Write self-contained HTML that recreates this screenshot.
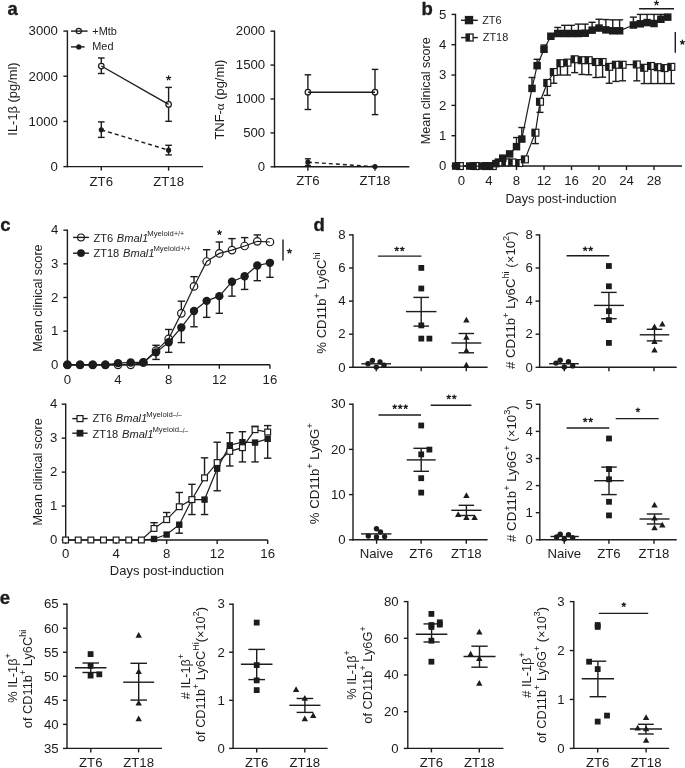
<!DOCTYPE html>
<html><head><meta charset="utf-8"><style>
html,body{margin:0;padding:0;background:#fff;width:685px;height:768px;overflow:hidden}
svg{position:absolute;left:0;top:0;display:block;will-change:transform}
text{font-family:"Liberation Sans", sans-serif;fill:#1c1c1c}
</style></head><body>
<svg width="685" height="768" viewBox="0 0 685 768">
<text x="7.6" y="14.6" font-size="18.5" font-weight="bold" stroke="#1c1c1c" stroke-width="0.35">a</text>
<text x="421.4" y="14.6" font-size="18.5" font-weight="bold" stroke="#1c1c1c" stroke-width="0.35">b</text>
<text x="0.3" y="231.3" font-size="18.5" font-weight="bold" stroke="#1c1c1c" stroke-width="0.35">c</text>
<text x="313.6" y="231.4" font-size="18.5" font-weight="bold" stroke="#1c1c1c" stroke-width="0.35">d</text>
<text x="-0.3" y="603.7" font-size="18.5" font-weight="bold" stroke="#1c1c1c" stroke-width="0.35">e</text>
<line x1="67.4" y1="30.49" x2="67.4" y2="167.2" stroke="#1c1c1c" stroke-width="1.4"/>
<line x1="63.4" y1="31.09" x2="67.4" y2="31.09" stroke="#1c1c1c" stroke-width="1.4"/>
<text x="57.9" y="35.38" font-size="13.2" text-anchor="end">3000</text>
<line x1="63.4" y1="76.26" x2="67.4" y2="76.26" stroke="#1c1c1c" stroke-width="1.4"/>
<text x="57.9" y="80.55" font-size="13.2" text-anchor="end">2000</text>
<line x1="63.4" y1="121.43" x2="67.4" y2="121.43" stroke="#1c1c1c" stroke-width="1.4"/>
<text x="57.9" y="125.72" font-size="13.2" text-anchor="end">1000</text>
<line x1="63.4" y1="166.6" x2="67.4" y2="166.6" stroke="#1c1c1c" stroke-width="1.4"/>
<text x="57.9" y="170.89" font-size="13.2" text-anchor="end">0</text>
<line x1="66.8" y1="166.6" x2="203" y2="166.6" stroke="#1c1c1c" stroke-width="1.4"/>
<line x1="101.3" y1="166.6" x2="101.3" y2="170.6" stroke="#1c1c1c" stroke-width="1.4"/>
<text x="101.3" y="185.8" font-size="13.2" text-anchor="middle">ZT6</text>
<line x1="168.6" y1="166.6" x2="168.6" y2="170.6" stroke="#1c1c1c" stroke-width="1.4"/>
<text x="168.6" y="185.8" font-size="13.2" text-anchor="middle">ZT18</text>
<text transform="translate(16.9,99) rotate(-90)" font-size="12.9" text-anchor="middle">IL-1β (pg/ml)</text>
<circle cx="78.8" cy="31.1" r="2.65" fill="#fff" stroke="#1c1c1c" stroke-width="1.2"/>
<line x1="71" y1="31.1" x2="87.6" y2="31.1" stroke="#1c1c1c" stroke-width="1.4"/>
<text x="92.3" y="34.8" font-size="10.9">+Mtb</text>
<line x1="71" y1="46.9" x2="84.7" y2="46.9" stroke="#1c1c1c" stroke-width="1.4"/>
<circle cx="78.8" cy="46.9" r="1.9" fill="#1c1c1c" stroke="#1c1c1c" stroke-width="1.4"/>
<text x="92.3" y="50.4" font-size="10.9">Med</text>
<line x1="101.3" y1="58" x2="101.3" y2="73.5" stroke="#1c1c1c" stroke-width="1.4"/>
<line x1="98" y1="58" x2="104.6" y2="58" stroke="#1c1c1c" stroke-width="1.4"/>
<line x1="98" y1="73.5" x2="104.6" y2="73.5" stroke="#1c1c1c" stroke-width="1.4"/>
<line x1="168.6" y1="87.4" x2="168.6" y2="121.3" stroke="#1c1c1c" stroke-width="1.4"/>
<line x1="165.3" y1="87.4" x2="171.9" y2="87.4" stroke="#1c1c1c" stroke-width="1.4"/>
<line x1="165.3" y1="121.3" x2="171.9" y2="121.3" stroke="#1c1c1c" stroke-width="1.4"/>
<circle cx="101.3" cy="66" r="2.75" fill="#fff" stroke="#1c1c1c" stroke-width="1.25"/>
<circle cx="168.6" cy="104.4" r="2.75" fill="#fff" stroke="#1c1c1c" stroke-width="1.25"/>
<line x1="101.3" y1="66" x2="168.6" y2="104.4" stroke="#1c1c1c" stroke-width="1.4"/>
<path d="M168.6 78L168.6 75.85M168.6 78L170.64 77.34M168.6 78L169.86 79.74M168.6 78L167.34 79.74M168.6 78L166.56 77.34" stroke="#1c1c1c" stroke-width="1.25" stroke-linecap="round" fill="none"/>
<line x1="101.3" y1="129.8" x2="168.6" y2="150.2" stroke="#1c1c1c" stroke-width="1.4" stroke-dasharray="4,3"/>
<line x1="101.3" y1="121.9" x2="101.3" y2="137.4" stroke="#1c1c1c" stroke-width="1.4"/>
<line x1="98" y1="121.9" x2="104.6" y2="121.9" stroke="#1c1c1c" stroke-width="1.4"/>
<line x1="98" y1="137.4" x2="104.6" y2="137.4" stroke="#1c1c1c" stroke-width="1.4"/>
<line x1="168.6" y1="145.3" x2="168.6" y2="154.9" stroke="#1c1c1c" stroke-width="1.4"/>
<line x1="165.3" y1="145.3" x2="171.9" y2="145.3" stroke="#1c1c1c" stroke-width="1.4"/>
<line x1="165.3" y1="154.9" x2="171.9" y2="154.9" stroke="#1c1c1c" stroke-width="1.4"/>
<circle cx="101.3" cy="129.8" r="1.9" fill="#1c1c1c" stroke="#1c1c1c" stroke-width="1.4"/>
<circle cx="168.6" cy="150.2" r="1.9" fill="#1c1c1c" stroke="#1c1c1c" stroke-width="1.4"/>
<line x1="274.5" y1="30.56" x2="274.5" y2="167.4" stroke="#1c1c1c" stroke-width="1.4"/>
<line x1="270.5" y1="31.16" x2="274.5" y2="31.16" stroke="#1c1c1c" stroke-width="1.4"/>
<text x="265.2" y="35.45" font-size="13.2" text-anchor="end">2000</text>
<line x1="270.5" y1="65.07" x2="274.5" y2="65.07" stroke="#1c1c1c" stroke-width="1.4"/>
<text x="265.2" y="69.36" font-size="13.2" text-anchor="end">1500</text>
<line x1="270.5" y1="98.98" x2="274.5" y2="98.98" stroke="#1c1c1c" stroke-width="1.4"/>
<text x="265.2" y="103.27" font-size="13.2" text-anchor="end">1000</text>
<line x1="270.5" y1="132.89" x2="274.5" y2="132.89" stroke="#1c1c1c" stroke-width="1.4"/>
<text x="265.2" y="137.18" font-size="13.2" text-anchor="end">500</text>
<line x1="270.5" y1="166.8" x2="274.5" y2="166.8" stroke="#1c1c1c" stroke-width="1.4"/>
<text x="265.2" y="171.09" font-size="13.2" text-anchor="end">0</text>
<line x1="273.9" y1="166.8" x2="409.4" y2="166.8" stroke="#1c1c1c" stroke-width="1.4"/>
<line x1="307.9" y1="166.8" x2="307.9" y2="170.8" stroke="#1c1c1c" stroke-width="1.4"/>
<text x="307.9" y="185.3" font-size="13.2" text-anchor="middle">ZT6</text>
<line x1="375" y1="166.8" x2="375" y2="170.8" stroke="#1c1c1c" stroke-width="1.4"/>
<text x="375" y="185.3" font-size="13.2" text-anchor="middle">ZT18</text>
<text transform="translate(224.2,99.6) rotate(-90)" font-size="12.9" text-anchor="middle">TNF-<tspan font-family="Liberation Serif">α</tspan> (pg/ml)</text>
<line x1="307.9" y1="74.8" x2="307.9" y2="109.5" stroke="#1c1c1c" stroke-width="1.4"/>
<line x1="304.6" y1="74.8" x2="311.2" y2="74.8" stroke="#1c1c1c" stroke-width="1.4"/>
<line x1="304.6" y1="109.5" x2="311.2" y2="109.5" stroke="#1c1c1c" stroke-width="1.4"/>
<line x1="375" y1="69.4" x2="375" y2="114.6" stroke="#1c1c1c" stroke-width="1.4"/>
<line x1="371.7" y1="69.4" x2="378.3" y2="69.4" stroke="#1c1c1c" stroke-width="1.4"/>
<line x1="371.7" y1="114.6" x2="378.3" y2="114.6" stroke="#1c1c1c" stroke-width="1.4"/>
<circle cx="307.9" cy="92.2" r="2.75" fill="#fff" stroke="#1c1c1c" stroke-width="1.25"/>
<circle cx="375" cy="92.2" r="2.75" fill="#fff" stroke="#1c1c1c" stroke-width="1.25"/>
<line x1="307.9" y1="92.2" x2="375" y2="92.2" stroke="#1c1c1c" stroke-width="1.4"/>
<line x1="307.9" y1="162.2" x2="375" y2="166.6" stroke="#1c1c1c" stroke-width="1.4" stroke-dasharray="4,3"/>
<line x1="307.9" y1="158.8" x2="307.9" y2="165.6" stroke="#1c1c1c" stroke-width="1.4"/>
<line x1="304.9" y1="158.8" x2="310.9" y2="158.8" stroke="#1c1c1c" stroke-width="1.4"/>
<line x1="304.9" y1="165.6" x2="310.9" y2="165.6" stroke="#1c1c1c" stroke-width="1.4"/>
<circle cx="307.9" cy="162.2" r="1.9" fill="#1c1c1c" stroke="#1c1c1c" stroke-width="1.4"/>
<circle cx="375" cy="166.6" r="1.9" fill="#1c1c1c" stroke="#1c1c1c" stroke-width="1.4"/>
<line x1="455.5" y1="13.8" x2="455.5" y2="166.65" stroke="#1c1c1c" stroke-width="1.4"/>
<line x1="451.5" y1="14.4" x2="455.5" y2="14.4" stroke="#1c1c1c" stroke-width="1.4"/>
<text x="446.3" y="18.69" font-size="13.2" text-anchor="end">5</text>
<line x1="451.5" y1="44.73" x2="455.5" y2="44.73" stroke="#1c1c1c" stroke-width="1.4"/>
<text x="446.3" y="49.02" font-size="13.2" text-anchor="end">4</text>
<line x1="451.5" y1="75.06" x2="455.5" y2="75.06" stroke="#1c1c1c" stroke-width="1.4"/>
<text x="446.3" y="79.35" font-size="13.2" text-anchor="end">3</text>
<line x1="451.5" y1="105.39" x2="455.5" y2="105.39" stroke="#1c1c1c" stroke-width="1.4"/>
<text x="446.3" y="109.68" font-size="13.2" text-anchor="end">2</text>
<line x1="451.5" y1="135.72" x2="455.5" y2="135.72" stroke="#1c1c1c" stroke-width="1.4"/>
<text x="446.3" y="140.01" font-size="13.2" text-anchor="end">1</text>
<line x1="451.5" y1="166.05" x2="455.5" y2="166.05" stroke="#1c1c1c" stroke-width="1.4"/>
<text x="446.3" y="170.34" font-size="13.2" text-anchor="end">0</text>
<line x1="454.9" y1="166.05" x2="682" y2="166.05" stroke="#1c1c1c" stroke-width="1.4"/>
<line x1="461.5" y1="166.05" x2="461.5" y2="170.05" stroke="#1c1c1c" stroke-width="1.4"/>
<text x="461.5" y="185.4" font-size="13.2" text-anchor="middle">0</text>
<line x1="489" y1="166.05" x2="489" y2="170.05" stroke="#1c1c1c" stroke-width="1.4"/>
<text x="489" y="185.4" font-size="13.2" text-anchor="middle">4</text>
<line x1="516.5" y1="166.05" x2="516.5" y2="170.05" stroke="#1c1c1c" stroke-width="1.4"/>
<text x="516.5" y="185.4" font-size="13.2" text-anchor="middle">8</text>
<line x1="544" y1="166.05" x2="544" y2="170.05" stroke="#1c1c1c" stroke-width="1.4"/>
<text x="544" y="185.4" font-size="13.2" text-anchor="middle">12</text>
<line x1="571.5" y1="166.05" x2="571.5" y2="170.05" stroke="#1c1c1c" stroke-width="1.4"/>
<text x="571.5" y="185.4" font-size="13.2" text-anchor="middle">16</text>
<line x1="599" y1="166.05" x2="599" y2="170.05" stroke="#1c1c1c" stroke-width="1.4"/>
<text x="599" y="185.4" font-size="13.2" text-anchor="middle">20</text>
<line x1="626.5" y1="166.05" x2="626.5" y2="170.05" stroke="#1c1c1c" stroke-width="1.4"/>
<text x="626.5" y="185.4" font-size="13.2" text-anchor="middle">24</text>
<line x1="654" y1="166.05" x2="654" y2="170.05" stroke="#1c1c1c" stroke-width="1.4"/>
<text x="654" y="185.4" font-size="13.2" text-anchor="middle">28</text>
<text transform="translate(429.9,90.8) rotate(-90)" font-size="12.6" text-anchor="middle">Mean clinical score</text>
<text x="561" y="203.2" font-size="12.65" text-anchor="middle">Days post-induction</text>
<line x1="461" y1="20.3" x2="477.8" y2="20.3" stroke="#1c1c1c" stroke-width="1.4"/>
<rect x="465.5" y="16.6" width="7" height="7" fill="#1c1c1c" stroke="#1c1c1c" stroke-width="1.4"/>
<text x="482.2" y="24.4" font-size="10.9">ZT6</text>
<line x1="461" y1="37.6" x2="477.8" y2="37.6" stroke="#1c1c1c" stroke-width="1.4"/>
<rect x="466.1" y="34" width="7" height="7" fill="#fff" stroke="#1c1c1c" stroke-width="1.3"/>
<rect x="466.1" y="34" width="3.85" height="7" fill="#1c1c1c"/>
<text x="482.8" y="41.4" font-size="10.9">ZT18</text>
<polyline points="459.9,166.05 475.6,166.05 486,166.05 492.8,166.05 498.68,162.41 505.55,162.41 512.42,162.41 519.3,163.02 524.9,159.38 535.4,132.69 540,101.75 547.3,82.95 553.8,72.03 560.4,63.23 567.5,62.62 574.7,59.29 581.9,60.2 588.7,60.2 595.9,62.02 602.6,62.02 609.2,66.87 615.8,64.75 622.6,64.75 636.8,64.44 644.2,67.78 651,65.96 657.8,67.17 664.5,68.08 671.3,66.87" fill="none" stroke="#1c1c1c" stroke-width="1.2"/>
<line x1="535.4" y1="132.69" x2="535.4" y2="143.61" stroke="#1c1c1c" stroke-width="1.4"/>
<line x1="531.9" y1="143.61" x2="538.9" y2="143.61" stroke="#1c1c1c" stroke-width="1.4"/>
<line x1="540" y1="101.75" x2="540" y2="112.37" stroke="#1c1c1c" stroke-width="1.4"/>
<line x1="536.5" y1="112.37" x2="543.5" y2="112.37" stroke="#1c1c1c" stroke-width="1.4"/>
<line x1="547.3" y1="82.95" x2="547.3" y2="95.38" stroke="#1c1c1c" stroke-width="1.4"/>
<line x1="543.8" y1="95.38" x2="550.8" y2="95.38" stroke="#1c1c1c" stroke-width="1.4"/>
<line x1="553.8" y1="72.03" x2="553.8" y2="83.25" stroke="#1c1c1c" stroke-width="1.4"/>
<line x1="550.3" y1="83.25" x2="557.3" y2="83.25" stroke="#1c1c1c" stroke-width="1.4"/>
<line x1="560.4" y1="63.23" x2="560.4" y2="75.06" stroke="#1c1c1c" stroke-width="1.4"/>
<line x1="556.9" y1="75.06" x2="563.9" y2="75.06" stroke="#1c1c1c" stroke-width="1.4"/>
<line x1="567.5" y1="62.62" x2="567.5" y2="75.06" stroke="#1c1c1c" stroke-width="1.4"/>
<line x1="564" y1="75.06" x2="571" y2="75.06" stroke="#1c1c1c" stroke-width="1.4"/>
<line x1="574.7" y1="59.29" x2="574.7" y2="72.63" stroke="#1c1c1c" stroke-width="1.4"/>
<line x1="571.2" y1="72.63" x2="578.2" y2="72.63" stroke="#1c1c1c" stroke-width="1.4"/>
<line x1="581.9" y1="60.2" x2="581.9" y2="74.45" stroke="#1c1c1c" stroke-width="1.4"/>
<line x1="578.4" y1="74.45" x2="585.4" y2="74.45" stroke="#1c1c1c" stroke-width="1.4"/>
<line x1="588.7" y1="60.2" x2="588.7" y2="74.76" stroke="#1c1c1c" stroke-width="1.4"/>
<line x1="585.2" y1="74.76" x2="592.2" y2="74.76" stroke="#1c1c1c" stroke-width="1.4"/>
<line x1="595.9" y1="62.02" x2="595.9" y2="77.49" stroke="#1c1c1c" stroke-width="1.4"/>
<line x1="592.4" y1="77.49" x2="599.4" y2="77.49" stroke="#1c1c1c" stroke-width="1.4"/>
<line x1="602.6" y1="62.02" x2="602.6" y2="77.18" stroke="#1c1c1c" stroke-width="1.4"/>
<line x1="599.1" y1="77.18" x2="606.1" y2="77.18" stroke="#1c1c1c" stroke-width="1.4"/>
<line x1="609.2" y1="66.87" x2="609.2" y2="83.25" stroke="#1c1c1c" stroke-width="1.4"/>
<line x1="605.7" y1="83.25" x2="612.7" y2="83.25" stroke="#1c1c1c" stroke-width="1.4"/>
<line x1="615.8" y1="64.75" x2="615.8" y2="81.43" stroke="#1c1c1c" stroke-width="1.4"/>
<line x1="612.3" y1="81.43" x2="619.3" y2="81.43" stroke="#1c1c1c" stroke-width="1.4"/>
<line x1="622.6" y1="64.75" x2="622.6" y2="80.82" stroke="#1c1c1c" stroke-width="1.4"/>
<line x1="619.1" y1="80.82" x2="626.1" y2="80.82" stroke="#1c1c1c" stroke-width="1.4"/>
<line x1="636.8" y1="64.44" x2="636.8" y2="80.82" stroke="#1c1c1c" stroke-width="1.4"/>
<line x1="633.3" y1="80.82" x2="640.3" y2="80.82" stroke="#1c1c1c" stroke-width="1.4"/>
<line x1="644.2" y1="67.78" x2="644.2" y2="83.55" stroke="#1c1c1c" stroke-width="1.4"/>
<line x1="640.7" y1="83.55" x2="647.7" y2="83.55" stroke="#1c1c1c" stroke-width="1.4"/>
<line x1="651" y1="65.96" x2="651" y2="83.55" stroke="#1c1c1c" stroke-width="1.4"/>
<line x1="647.5" y1="83.55" x2="654.5" y2="83.55" stroke="#1c1c1c" stroke-width="1.4"/>
<line x1="657.8" y1="67.17" x2="657.8" y2="83.55" stroke="#1c1c1c" stroke-width="1.4"/>
<line x1="654.3" y1="83.55" x2="661.3" y2="83.55" stroke="#1c1c1c" stroke-width="1.4"/>
<line x1="664.5" y1="68.08" x2="664.5" y2="83.55" stroke="#1c1c1c" stroke-width="1.4"/>
<line x1="661" y1="83.55" x2="668" y2="83.55" stroke="#1c1c1c" stroke-width="1.4"/>
<line x1="671.3" y1="66.87" x2="671.3" y2="83.55" stroke="#1c1c1c" stroke-width="1.4"/>
<line x1="667.8" y1="83.55" x2="674.8" y2="83.55" stroke="#1c1c1c" stroke-width="1.4"/>
<rect x="456.45" y="162.6" width="6.9" height="6.9" fill="#fff" stroke="#1c1c1c" stroke-width="1.2"/>
<rect x="456.45" y="162.6" width="3.8" height="6.9" fill="#1c1c1c"/>
<rect x="472.15" y="162.6" width="6.9" height="6.9" fill="#fff" stroke="#1c1c1c" stroke-width="1.2"/>
<rect x="472.15" y="162.6" width="3.8" height="6.9" fill="#1c1c1c"/>
<rect x="482.55" y="162.6" width="6.9" height="6.9" fill="#fff" stroke="#1c1c1c" stroke-width="1.2"/>
<rect x="482.55" y="162.6" width="3.8" height="6.9" fill="#1c1c1c"/>
<rect x="489.35" y="162.6" width="6.9" height="6.9" fill="#fff" stroke="#1c1c1c" stroke-width="1.2"/>
<rect x="489.35" y="162.6" width="3.8" height="6.9" fill="#1c1c1c"/>
<rect x="495.23" y="158.96" width="6.9" height="6.9" fill="#fff" stroke="#1c1c1c" stroke-width="1.2"/>
<rect x="495.23" y="158.96" width="3.8" height="6.9" fill="#1c1c1c"/>
<rect x="502.1" y="158.96" width="6.9" height="6.9" fill="#fff" stroke="#1c1c1c" stroke-width="1.2"/>
<rect x="502.1" y="158.96" width="3.8" height="6.9" fill="#1c1c1c"/>
<rect x="508.97" y="158.96" width="6.9" height="6.9" fill="#fff" stroke="#1c1c1c" stroke-width="1.2"/>
<rect x="508.97" y="158.96" width="3.8" height="6.9" fill="#1c1c1c"/>
<rect x="515.85" y="159.57" width="6.9" height="6.9" fill="#fff" stroke="#1c1c1c" stroke-width="1.2"/>
<rect x="515.85" y="159.57" width="3.8" height="6.9" fill="#1c1c1c"/>
<rect x="521.45" y="155.93" width="6.9" height="6.9" fill="#fff" stroke="#1c1c1c" stroke-width="1.2"/>
<rect x="521.45" y="155.93" width="3.8" height="6.9" fill="#1c1c1c"/>
<rect x="531.95" y="129.24" width="6.9" height="6.9" fill="#fff" stroke="#1c1c1c" stroke-width="1.2"/>
<rect x="531.95" y="129.24" width="3.8" height="6.9" fill="#1c1c1c"/>
<rect x="536.55" y="98.3" width="6.9" height="6.9" fill="#fff" stroke="#1c1c1c" stroke-width="1.2"/>
<rect x="536.55" y="98.3" width="3.8" height="6.9" fill="#1c1c1c"/>
<rect x="543.85" y="79.5" width="6.9" height="6.9" fill="#fff" stroke="#1c1c1c" stroke-width="1.2"/>
<rect x="543.85" y="79.5" width="3.8" height="6.9" fill="#1c1c1c"/>
<rect x="550.35" y="68.58" width="6.9" height="6.9" fill="#fff" stroke="#1c1c1c" stroke-width="1.2"/>
<rect x="550.35" y="68.58" width="3.8" height="6.9" fill="#1c1c1c"/>
<rect x="556.95" y="59.78" width="6.9" height="6.9" fill="#fff" stroke="#1c1c1c" stroke-width="1.2"/>
<rect x="556.95" y="59.78" width="3.8" height="6.9" fill="#1c1c1c"/>
<rect x="564.05" y="59.17" width="6.9" height="6.9" fill="#fff" stroke="#1c1c1c" stroke-width="1.2"/>
<rect x="564.05" y="59.17" width="3.8" height="6.9" fill="#1c1c1c"/>
<rect x="571.25" y="55.84" width="6.9" height="6.9" fill="#fff" stroke="#1c1c1c" stroke-width="1.2"/>
<rect x="571.25" y="55.84" width="3.8" height="6.9" fill="#1c1c1c"/>
<rect x="578.45" y="56.75" width="6.9" height="6.9" fill="#fff" stroke="#1c1c1c" stroke-width="1.2"/>
<rect x="578.45" y="56.75" width="3.8" height="6.9" fill="#1c1c1c"/>
<rect x="585.25" y="56.75" width="6.9" height="6.9" fill="#fff" stroke="#1c1c1c" stroke-width="1.2"/>
<rect x="585.25" y="56.75" width="3.8" height="6.9" fill="#1c1c1c"/>
<rect x="592.45" y="58.57" width="6.9" height="6.9" fill="#fff" stroke="#1c1c1c" stroke-width="1.2"/>
<rect x="592.45" y="58.57" width="3.8" height="6.9" fill="#1c1c1c"/>
<rect x="599.15" y="58.57" width="6.9" height="6.9" fill="#fff" stroke="#1c1c1c" stroke-width="1.2"/>
<rect x="599.15" y="58.57" width="3.8" height="6.9" fill="#1c1c1c"/>
<rect x="605.75" y="63.42" width="6.9" height="6.9" fill="#fff" stroke="#1c1c1c" stroke-width="1.2"/>
<rect x="605.75" y="63.42" width="3.8" height="6.9" fill="#1c1c1c"/>
<rect x="612.35" y="61.3" width="6.9" height="6.9" fill="#fff" stroke="#1c1c1c" stroke-width="1.2"/>
<rect x="612.35" y="61.3" width="3.8" height="6.9" fill="#1c1c1c"/>
<rect x="619.15" y="61.3" width="6.9" height="6.9" fill="#fff" stroke="#1c1c1c" stroke-width="1.2"/>
<rect x="619.15" y="61.3" width="3.8" height="6.9" fill="#1c1c1c"/>
<rect x="633.35" y="60.99" width="6.9" height="6.9" fill="#fff" stroke="#1c1c1c" stroke-width="1.2"/>
<rect x="633.35" y="60.99" width="3.8" height="6.9" fill="#1c1c1c"/>
<rect x="640.75" y="64.33" width="6.9" height="6.9" fill="#fff" stroke="#1c1c1c" stroke-width="1.2"/>
<rect x="640.75" y="64.33" width="3.8" height="6.9" fill="#1c1c1c"/>
<rect x="647.55" y="62.51" width="6.9" height="6.9" fill="#fff" stroke="#1c1c1c" stroke-width="1.2"/>
<rect x="647.55" y="62.51" width="3.8" height="6.9" fill="#1c1c1c"/>
<rect x="654.35" y="63.72" width="6.9" height="6.9" fill="#fff" stroke="#1c1c1c" stroke-width="1.2"/>
<rect x="654.35" y="63.72" width="3.8" height="6.9" fill="#1c1c1c"/>
<rect x="661.05" y="64.63" width="6.9" height="6.9" fill="#fff" stroke="#1c1c1c" stroke-width="1.2"/>
<rect x="661.05" y="64.63" width="3.8" height="6.9" fill="#1c1c1c"/>
<rect x="667.85" y="63.42" width="6.9" height="6.9" fill="#fff" stroke="#1c1c1c" stroke-width="1.2"/>
<rect x="667.85" y="63.42" width="3.8" height="6.9" fill="#1c1c1c"/>
<polyline points="455.7,166.05 469.7,166.05 473.1,166.05 482.1,166.05 485.6,166.05 489.5,166.05 495.88,163.62 502.75,158.16 509.62,153.92 516.5,146.64 521.8,139.06 532,88.41 537.12,65.66 544,49.28 550.88,36.24 557.75,33.51 564.62,33.51 571.5,33.51 578.38,33.51 585.25,33.2 592.12,30.17 599,28.05 605.88,29.87 612.75,30.78 619.62,30.78 633.38,25.02 640.25,23.8 647.12,22.59 654,23.5 660.88,19.25 667.75,17.13" fill="none" stroke="#1c1c1c" stroke-width="1.2"/>
<line x1="516.5" y1="146.64" x2="516.5" y2="137.54" stroke="#1c1c1c" stroke-width="1.4"/>
<line x1="513" y1="137.54" x2="520" y2="137.54" stroke="#1c1c1c" stroke-width="1.4"/>
<line x1="521.8" y1="139.06" x2="521.8" y2="127.53" stroke="#1c1c1c" stroke-width="1.4"/>
<line x1="518.3" y1="127.53" x2="525.3" y2="127.53" stroke="#1c1c1c" stroke-width="1.4"/>
<line x1="532" y1="88.41" x2="532" y2="77.49" stroke="#1c1c1c" stroke-width="1.4"/>
<line x1="528.5" y1="77.49" x2="535.5" y2="77.49" stroke="#1c1c1c" stroke-width="1.4"/>
<line x1="537.12" y1="65.66" x2="537.12" y2="59.29" stroke="#1c1c1c" stroke-width="1.4"/>
<line x1="533.62" y1="59.29" x2="540.62" y2="59.29" stroke="#1c1c1c" stroke-width="1.4"/>
<line x1="544" y1="49.28" x2="544" y2="45.03" stroke="#1c1c1c" stroke-width="1.4"/>
<line x1="540.5" y1="45.03" x2="547.5" y2="45.03" stroke="#1c1c1c" stroke-width="1.4"/>
<line x1="557.75" y1="33.51" x2="557.75" y2="27.44" stroke="#1c1c1c" stroke-width="1.4"/>
<line x1="554.25" y1="27.44" x2="561.25" y2="27.44" stroke="#1c1c1c" stroke-width="1.4"/>
<line x1="564.62" y1="33.51" x2="564.62" y2="25.32" stroke="#1c1c1c" stroke-width="1.4"/>
<line x1="561.12" y1="25.32" x2="568.12" y2="25.32" stroke="#1c1c1c" stroke-width="1.4"/>
<line x1="571.5" y1="33.51" x2="571.5" y2="25.32" stroke="#1c1c1c" stroke-width="1.4"/>
<line x1="568" y1="25.32" x2="575" y2="25.32" stroke="#1c1c1c" stroke-width="1.4"/>
<line x1="578.38" y1="33.51" x2="578.38" y2="24.11" stroke="#1c1c1c" stroke-width="1.4"/>
<line x1="574.88" y1="24.11" x2="581.88" y2="24.11" stroke="#1c1c1c" stroke-width="1.4"/>
<line x1="585.25" y1="33.2" x2="585.25" y2="24.11" stroke="#1c1c1c" stroke-width="1.4"/>
<line x1="581.75" y1="24.11" x2="588.75" y2="24.11" stroke="#1c1c1c" stroke-width="1.4"/>
<line x1="592.12" y1="30.17" x2="592.12" y2="22.29" stroke="#1c1c1c" stroke-width="1.4"/>
<line x1="588.62" y1="22.29" x2="595.62" y2="22.29" stroke="#1c1c1c" stroke-width="1.4"/>
<line x1="599" y1="28.05" x2="599" y2="19.25" stroke="#1c1c1c" stroke-width="1.4"/>
<line x1="595.5" y1="19.25" x2="602.5" y2="19.25" stroke="#1c1c1c" stroke-width="1.4"/>
<line x1="605.88" y1="29.87" x2="605.88" y2="19.56" stroke="#1c1c1c" stroke-width="1.4"/>
<line x1="602.38" y1="19.56" x2="609.38" y2="19.56" stroke="#1c1c1c" stroke-width="1.4"/>
<line x1="612.75" y1="30.78" x2="612.75" y2="19.86" stroke="#1c1c1c" stroke-width="1.4"/>
<line x1="609.25" y1="19.86" x2="616.25" y2="19.86" stroke="#1c1c1c" stroke-width="1.4"/>
<line x1="619.62" y1="30.78" x2="619.62" y2="19.86" stroke="#1c1c1c" stroke-width="1.4"/>
<line x1="616.12" y1="19.86" x2="623.12" y2="19.86" stroke="#1c1c1c" stroke-width="1.4"/>
<line x1="633.38" y1="25.02" x2="633.38" y2="17.13" stroke="#1c1c1c" stroke-width="1.4"/>
<line x1="629.88" y1="17.13" x2="636.88" y2="17.13" stroke="#1c1c1c" stroke-width="1.4"/>
<line x1="640.25" y1="23.8" x2="640.25" y2="14.4" stroke="#1c1c1c" stroke-width="1.4"/>
<line x1="636.75" y1="14.4" x2="643.75" y2="14.4" stroke="#1c1c1c" stroke-width="1.4"/>
<line x1="647.12" y1="22.59" x2="647.12" y2="14.4" stroke="#1c1c1c" stroke-width="1.4"/>
<line x1="643.62" y1="14.4" x2="650.62" y2="14.4" stroke="#1c1c1c" stroke-width="1.4"/>
<line x1="654" y1="23.5" x2="654" y2="14.4" stroke="#1c1c1c" stroke-width="1.4"/>
<line x1="650.5" y1="14.4" x2="657.5" y2="14.4" stroke="#1c1c1c" stroke-width="1.4"/>
<line x1="660.88" y1="19.25" x2="660.88" y2="14.4" stroke="#1c1c1c" stroke-width="1.4"/>
<line x1="657.38" y1="14.4" x2="664.38" y2="14.4" stroke="#1c1c1c" stroke-width="1.4"/>
<rect x="451.95" y="162.3" width="7.5" height="7.5" fill="#1c1c1c" stroke="#1c1c1c" stroke-width="0"/>
<rect x="465.95" y="162.3" width="7.5" height="7.5" fill="#1c1c1c" stroke="#1c1c1c" stroke-width="0"/>
<rect x="469.35" y="162.3" width="7.5" height="7.5" fill="#1c1c1c" stroke="#1c1c1c" stroke-width="0"/>
<rect x="478.35" y="162.3" width="7.5" height="7.5" fill="#1c1c1c" stroke="#1c1c1c" stroke-width="0"/>
<rect x="481.85" y="162.3" width="7.5" height="7.5" fill="#1c1c1c" stroke="#1c1c1c" stroke-width="0"/>
<rect x="485.75" y="162.3" width="7.5" height="7.5" fill="#1c1c1c" stroke="#1c1c1c" stroke-width="0"/>
<rect x="492.12" y="159.87" width="7.5" height="7.5" fill="#1c1c1c" stroke="#1c1c1c" stroke-width="0"/>
<rect x="499" y="154.41" width="7.5" height="7.5" fill="#1c1c1c" stroke="#1c1c1c" stroke-width="0"/>
<rect x="505.88" y="150.17" width="7.5" height="7.5" fill="#1c1c1c" stroke="#1c1c1c" stroke-width="0"/>
<rect x="512.75" y="142.89" width="7.5" height="7.5" fill="#1c1c1c" stroke="#1c1c1c" stroke-width="0"/>
<rect x="518.05" y="135.31" width="7.5" height="7.5" fill="#1c1c1c" stroke="#1c1c1c" stroke-width="0"/>
<rect x="528.25" y="84.66" width="7.5" height="7.5" fill="#1c1c1c" stroke="#1c1c1c" stroke-width="0"/>
<rect x="533.38" y="61.91" width="7.5" height="7.5" fill="#1c1c1c" stroke="#1c1c1c" stroke-width="0"/>
<rect x="540.25" y="45.53" width="7.5" height="7.5" fill="#1c1c1c" stroke="#1c1c1c" stroke-width="0"/>
<rect x="547.12" y="32.49" width="7.5" height="7.5" fill="#1c1c1c" stroke="#1c1c1c" stroke-width="0"/>
<rect x="554" y="29.76" width="7.5" height="7.5" fill="#1c1c1c" stroke="#1c1c1c" stroke-width="0"/>
<rect x="560.88" y="29.76" width="7.5" height="7.5" fill="#1c1c1c" stroke="#1c1c1c" stroke-width="0"/>
<rect x="567.75" y="29.76" width="7.5" height="7.5" fill="#1c1c1c" stroke="#1c1c1c" stroke-width="0"/>
<rect x="574.62" y="29.76" width="7.5" height="7.5" fill="#1c1c1c" stroke="#1c1c1c" stroke-width="0"/>
<rect x="581.5" y="29.45" width="7.5" height="7.5" fill="#1c1c1c" stroke="#1c1c1c" stroke-width="0"/>
<rect x="588.38" y="26.42" width="7.5" height="7.5" fill="#1c1c1c" stroke="#1c1c1c" stroke-width="0"/>
<rect x="595.25" y="24.3" width="7.5" height="7.5" fill="#1c1c1c" stroke="#1c1c1c" stroke-width="0"/>
<rect x="602.12" y="26.12" width="7.5" height="7.5" fill="#1c1c1c" stroke="#1c1c1c" stroke-width="0"/>
<rect x="609" y="27.03" width="7.5" height="7.5" fill="#1c1c1c" stroke="#1c1c1c" stroke-width="0"/>
<rect x="615.88" y="27.03" width="7.5" height="7.5" fill="#1c1c1c" stroke="#1c1c1c" stroke-width="0"/>
<rect x="629.62" y="21.27" width="7.5" height="7.5" fill="#1c1c1c" stroke="#1c1c1c" stroke-width="0"/>
<rect x="636.5" y="20.05" width="7.5" height="7.5" fill="#1c1c1c" stroke="#1c1c1c" stroke-width="0"/>
<rect x="643.38" y="18.84" width="7.5" height="7.5" fill="#1c1c1c" stroke="#1c1c1c" stroke-width="0"/>
<rect x="650.25" y="19.75" width="7.5" height="7.5" fill="#1c1c1c" stroke="#1c1c1c" stroke-width="0"/>
<rect x="657.12" y="15.5" width="7.5" height="7.5" fill="#1c1c1c" stroke="#1c1c1c" stroke-width="0"/>
<rect x="664" y="13.38" width="7.5" height="7.5" fill="#1c1c1c" stroke="#1c1c1c" stroke-width="0"/>
<line x1="639.1" y1="8.7" x2="674" y2="8.7" stroke="#1c1c1c" stroke-width="1.4"/>
<path d="M656.5 3L656.5 0.85M656.5 3L658.54 2.34M656.5 3L657.76 4.74M656.5 3L655.24 4.74M656.5 3L654.46 2.34" stroke="#1c1c1c" stroke-width="1.25" stroke-linecap="round" fill="none"/>
<line x1="675.3" y1="32" x2="675.3" y2="52.7" stroke="#1c1c1c" stroke-width="1.4"/>
<path d="M682.4 42.3L682.4 40.15M682.4 42.3L684.44 41.64M682.4 42.3L683.66 44.04M682.4 42.3L681.14 44.04M682.4 42.3L680.36 41.64" stroke="#1c1c1c" stroke-width="1.25" stroke-linecap="round" fill="none"/>
<line x1="67.4" y1="229.6" x2="67.4" y2="365.4" stroke="#1c1c1c" stroke-width="1.4"/>
<line x1="63.4" y1="230.2" x2="67.4" y2="230.2" stroke="#1c1c1c" stroke-width="1.4"/>
<text x="58.4" y="234.49" font-size="13.2" text-anchor="end">4</text>
<line x1="63.4" y1="263.85" x2="67.4" y2="263.85" stroke="#1c1c1c" stroke-width="1.4"/>
<text x="58.4" y="268.14" font-size="13.2" text-anchor="end">3</text>
<line x1="63.4" y1="297.5" x2="67.4" y2="297.5" stroke="#1c1c1c" stroke-width="1.4"/>
<text x="58.4" y="301.79" font-size="13.2" text-anchor="end">2</text>
<line x1="63.4" y1="331.15" x2="67.4" y2="331.15" stroke="#1c1c1c" stroke-width="1.4"/>
<text x="58.4" y="335.44" font-size="13.2" text-anchor="end">1</text>
<line x1="63.4" y1="364.8" x2="67.4" y2="364.8" stroke="#1c1c1c" stroke-width="1.4"/>
<text x="58.4" y="369.09" font-size="13.2" text-anchor="end">0</text>
<line x1="66.8" y1="364.8" x2="269.96" y2="364.8" stroke="#1c1c1c" stroke-width="1.4"/>
<line x1="67.4" y1="364.8" x2="67.4" y2="368.8" stroke="#1c1c1c" stroke-width="1.4"/>
<text x="67.4" y="384.4" font-size="13.2" text-anchor="middle">0</text>
<line x1="118.04" y1="364.8" x2="118.04" y2="368.8" stroke="#1c1c1c" stroke-width="1.4"/>
<text x="118.04" y="384.4" font-size="13.2" text-anchor="middle">4</text>
<line x1="168.68" y1="364.8" x2="168.68" y2="368.8" stroke="#1c1c1c" stroke-width="1.4"/>
<text x="168.68" y="384.4" font-size="13.2" text-anchor="middle">8</text>
<line x1="219.32" y1="364.8" x2="219.32" y2="368.8" stroke="#1c1c1c" stroke-width="1.4"/>
<text x="219.32" y="384.4" font-size="13.2" text-anchor="middle">12</text>
<line x1="269.96" y1="364.8" x2="269.96" y2="368.8" stroke="#1c1c1c" stroke-width="1.4"/>
<text x="269.96" y="384.4" font-size="13.2" text-anchor="middle">16</text>
<text transform="translate(42,298.1) rotate(-90)" font-size="12.65" text-anchor="middle">Mean clinical score</text>
<circle cx="81" cy="237.4" r="3.4" fill="#fff" stroke="#1c1c1c" stroke-width="1.15"/>
<line x1="73.1" y1="237.4" x2="88.9" y2="237.4" stroke="#1c1c1c" stroke-width="1.4"/>
<text x="93.4" y="241.9" font-size="11.1">ZT6&#160;<tspan dx="0.6" font-style="italic">Bmal1</tspan><tspan dx="-1.0" dy="-5.6" font-size="7.7">Myeloid</tspan><tspan dx="0.2" dy="0.0" font-size="7.0">+/+</tspan></text>
<line x1="73.1" y1="253.2" x2="88.9" y2="253.2" stroke="#1c1c1c" stroke-width="1.4"/>
<circle cx="81" cy="253.1" r="3.9" fill="#1c1c1c" stroke="#1c1c1c" stroke-width="0"/>
<text x="93.4" y="256.6" font-size="11.1">ZT18&#160;<tspan dx="0.6" font-style="italic">Bmal1</tspan><tspan dx="-1.0" dy="-5.6" font-size="7.7">Myeloid</tspan><tspan dx="0.2" dy="0.0" font-size="7.0">+/+</tspan></text>
<line x1="156.02" y1="347.07" x2="156.02" y2="345.28" stroke="#1c1c1c" stroke-width="1.4"/>
<line x1="152.32" y1="345.28" x2="159.72" y2="345.28" stroke="#1c1c1c" stroke-width="1.4"/>
<line x1="168.68" y1="335.29" x2="168.68" y2="329.47" stroke="#1c1c1c" stroke-width="1.4"/>
<line x1="164.98" y1="329.47" x2="172.38" y2="329.47" stroke="#1c1c1c" stroke-width="1.4"/>
<line x1="181.34" y1="309.72" x2="181.34" y2="301.2" stroke="#1c1c1c" stroke-width="1.4"/>
<line x1="177.64" y1="301.2" x2="185.04" y2="301.2" stroke="#1c1c1c" stroke-width="1.4"/>
<line x1="194" y1="282.8" x2="194" y2="276.64" stroke="#1c1c1c" stroke-width="1.4"/>
<line x1="190.3" y1="276.64" x2="197.7" y2="276.64" stroke="#1c1c1c" stroke-width="1.4"/>
<line x1="206.66" y1="257.89" x2="206.66" y2="249.72" stroke="#1c1c1c" stroke-width="1.4"/>
<line x1="202.96" y1="249.72" x2="210.36" y2="249.72" stroke="#1c1c1c" stroke-width="1.4"/>
<line x1="219.32" y1="249.82" x2="219.32" y2="241.98" stroke="#1c1c1c" stroke-width="1.4"/>
<line x1="215.62" y1="241.98" x2="223.02" y2="241.98" stroke="#1c1c1c" stroke-width="1.4"/>
<line x1="231.98" y1="246.45" x2="231.98" y2="238.61" stroke="#1c1c1c" stroke-width="1.4"/>
<line x1="228.28" y1="238.61" x2="235.68" y2="238.61" stroke="#1c1c1c" stroke-width="1.4"/>
<line x1="244.64" y1="242.42" x2="244.64" y2="237.6" stroke="#1c1c1c" stroke-width="1.4"/>
<line x1="240.94" y1="237.6" x2="248.34" y2="237.6" stroke="#1c1c1c" stroke-width="1.4"/>
<line x1="257.3" y1="237.7" x2="257.3" y2="234.91" stroke="#1c1c1c" stroke-width="1.4"/>
<line x1="253.6" y1="234.91" x2="261" y2="234.91" stroke="#1c1c1c" stroke-width="1.4"/>
<circle cx="67.4" cy="364.8" r="3.75" fill="#fff" stroke="#1c1c1c" stroke-width="1.2"/>
<circle cx="80.06" cy="364.8" r="3.75" fill="#fff" stroke="#1c1c1c" stroke-width="1.2"/>
<circle cx="92.72" cy="364.8" r="3.75" fill="#fff" stroke="#1c1c1c" stroke-width="1.2"/>
<circle cx="105.38" cy="364.8" r="3.75" fill="#fff" stroke="#1c1c1c" stroke-width="1.2"/>
<circle cx="118.04" cy="364.8" r="3.75" fill="#fff" stroke="#1c1c1c" stroke-width="1.2"/>
<circle cx="130.7" cy="364.8" r="3.75" fill="#fff" stroke="#1c1c1c" stroke-width="1.2"/>
<circle cx="143.36" cy="362.44" r="3.75" fill="#fff" stroke="#1c1c1c" stroke-width="1.2"/>
<circle cx="156.02" cy="350.67" r="3.75" fill="#fff" stroke="#1c1c1c" stroke-width="1.2"/>
<circle cx="168.68" cy="338.89" r="3.75" fill="#fff" stroke="#1c1c1c" stroke-width="1.2"/>
<circle cx="181.34" cy="313.32" r="3.75" fill="#fff" stroke="#1c1c1c" stroke-width="1.2"/>
<circle cx="194" cy="286.4" r="3.75" fill="#fff" stroke="#1c1c1c" stroke-width="1.2"/>
<circle cx="206.66" cy="261.49" r="3.75" fill="#fff" stroke="#1c1c1c" stroke-width="1.2"/>
<circle cx="219.32" cy="253.42" r="3.75" fill="#fff" stroke="#1c1c1c" stroke-width="1.2"/>
<circle cx="231.98" cy="250.05" r="3.75" fill="#fff" stroke="#1c1c1c" stroke-width="1.2"/>
<circle cx="244.64" cy="246.02" r="3.75" fill="#fff" stroke="#1c1c1c" stroke-width="1.2"/>
<circle cx="257.3" cy="241.3" r="3.75" fill="#fff" stroke="#1c1c1c" stroke-width="1.2"/>
<circle cx="269.96" cy="241.98" r="3.75" fill="#fff" stroke="#1c1c1c" stroke-width="1.2"/>
<polyline points="67.4,364.8 80.06,364.8 92.72,364.8 105.38,364.8 118.04,364.8 130.7,364.8 143.36,362.44 156.02,350.67 168.68,338.89 181.34,313.32 194,286.4 206.66,261.49 219.32,253.42 231.98,250.05 244.64,246.02 257.3,241.3 269.96,241.98" fill="none" stroke="#1c1c1c" stroke-width="1.2"/>
<polyline points="67.4,364.8 80.06,364.8 92.72,364.8 105.38,364.8 118.04,363.12 130.7,362.44 143.36,362.44 156.02,352.35 168.68,342.25 181.34,327.45 194,310.96 206.66,300.87 219.32,296.15 231.98,281.68 244.64,276.3 257.3,265.53 269.96,262.84" fill="none" stroke="#1c1c1c" stroke-width="1.2"/>
<line x1="156.02" y1="352.35" x2="156.02" y2="359.42" stroke="#1c1c1c" stroke-width="1.4"/>
<line x1="152.32" y1="359.42" x2="159.72" y2="359.42" stroke="#1c1c1c" stroke-width="1.4"/>
<line x1="168.68" y1="342.25" x2="168.68" y2="352.35" stroke="#1c1c1c" stroke-width="1.4"/>
<line x1="164.98" y1="352.35" x2="172.38" y2="352.35" stroke="#1c1c1c" stroke-width="1.4"/>
<line x1="181.34" y1="327.45" x2="181.34" y2="342.59" stroke="#1c1c1c" stroke-width="1.4"/>
<line x1="177.64" y1="342.59" x2="185.04" y2="342.59" stroke="#1c1c1c" stroke-width="1.4"/>
<line x1="194" y1="310.96" x2="194" y2="326.78" stroke="#1c1c1c" stroke-width="1.4"/>
<line x1="190.3" y1="326.78" x2="197.7" y2="326.78" stroke="#1c1c1c" stroke-width="1.4"/>
<line x1="206.66" y1="300.87" x2="206.66" y2="317.35" stroke="#1c1c1c" stroke-width="1.4"/>
<line x1="202.96" y1="317.35" x2="210.36" y2="317.35" stroke="#1c1c1c" stroke-width="1.4"/>
<line x1="219.32" y1="296.15" x2="219.32" y2="313.32" stroke="#1c1c1c" stroke-width="1.4"/>
<line x1="215.62" y1="313.32" x2="223.02" y2="313.32" stroke="#1c1c1c" stroke-width="1.4"/>
<line x1="231.98" y1="281.68" x2="231.98" y2="296.15" stroke="#1c1c1c" stroke-width="1.4"/>
<line x1="228.28" y1="296.15" x2="235.68" y2="296.15" stroke="#1c1c1c" stroke-width="1.4"/>
<line x1="244.64" y1="276.3" x2="244.64" y2="289.42" stroke="#1c1c1c" stroke-width="1.4"/>
<line x1="240.94" y1="289.42" x2="248.34" y2="289.42" stroke="#1c1c1c" stroke-width="1.4"/>
<line x1="257.3" y1="265.53" x2="257.3" y2="280.68" stroke="#1c1c1c" stroke-width="1.4"/>
<line x1="253.6" y1="280.68" x2="261" y2="280.68" stroke="#1c1c1c" stroke-width="1.4"/>
<line x1="269.96" y1="262.84" x2="269.96" y2="277.31" stroke="#1c1c1c" stroke-width="1.4"/>
<line x1="266.26" y1="277.31" x2="273.66" y2="277.31" stroke="#1c1c1c" stroke-width="1.4"/>
<circle cx="67.4" cy="364.8" r="4.2" fill="#1c1c1c" stroke="#1c1c1c" stroke-width="0"/>
<circle cx="80.06" cy="364.8" r="4.2" fill="#1c1c1c" stroke="#1c1c1c" stroke-width="0"/>
<circle cx="92.72" cy="364.8" r="4.2" fill="#1c1c1c" stroke="#1c1c1c" stroke-width="0"/>
<circle cx="105.38" cy="364.8" r="4.2" fill="#1c1c1c" stroke="#1c1c1c" stroke-width="0"/>
<circle cx="118.04" cy="363.12" r="4.2" fill="#1c1c1c" stroke="#1c1c1c" stroke-width="0"/>
<circle cx="130.7" cy="362.44" r="4.2" fill="#1c1c1c" stroke="#1c1c1c" stroke-width="0"/>
<circle cx="143.36" cy="362.44" r="4.2" fill="#1c1c1c" stroke="#1c1c1c" stroke-width="0"/>
<circle cx="156.02" cy="352.35" r="4.2" fill="#1c1c1c" stroke="#1c1c1c" stroke-width="0"/>
<circle cx="168.68" cy="342.25" r="4.2" fill="#1c1c1c" stroke="#1c1c1c" stroke-width="0"/>
<circle cx="181.34" cy="327.45" r="4.2" fill="#1c1c1c" stroke="#1c1c1c" stroke-width="0"/>
<circle cx="194" cy="310.96" r="4.2" fill="#1c1c1c" stroke="#1c1c1c" stroke-width="0"/>
<circle cx="206.66" cy="300.87" r="4.2" fill="#1c1c1c" stroke="#1c1c1c" stroke-width="0"/>
<circle cx="219.32" cy="296.15" r="4.2" fill="#1c1c1c" stroke="#1c1c1c" stroke-width="0"/>
<circle cx="231.98" cy="281.68" r="4.2" fill="#1c1c1c" stroke="#1c1c1c" stroke-width="0"/>
<circle cx="244.64" cy="276.3" r="4.2" fill="#1c1c1c" stroke="#1c1c1c" stroke-width="0"/>
<circle cx="257.3" cy="265.53" r="4.2" fill="#1c1c1c" stroke="#1c1c1c" stroke-width="0"/>
<circle cx="269.96" cy="262.84" r="4.2" fill="#1c1c1c" stroke="#1c1c1c" stroke-width="0"/>
<path d="M219.4 232.6L219.4 230.45M219.4 232.6L221.44 231.94M219.4 232.6L220.66 234.34M219.4 232.6L218.14 234.34M219.4 232.6L217.36 231.94" stroke="#1c1c1c" stroke-width="1.25" stroke-linecap="round" fill="none"/>
<line x1="283" y1="239.6" x2="283" y2="260.6" stroke="#1c1c1c" stroke-width="1.4"/>
<path d="M289.5 251.2L289.5 249.05M289.5 251.2L291.54 250.54M289.5 251.2L290.76 252.94M289.5 251.2L288.24 252.94M289.5 251.2L287.46 250.54" stroke="#1c1c1c" stroke-width="1.25" stroke-linecap="round" fill="none"/>
<line x1="65.7" y1="403.6" x2="65.7" y2="540.6" stroke="#1c1c1c" stroke-width="1.4"/>
<line x1="61.7" y1="404.2" x2="65.7" y2="404.2" stroke="#1c1c1c" stroke-width="1.4"/>
<text x="57.4" y="408.49" font-size="13.2" text-anchor="end">4</text>
<line x1="61.7" y1="438.15" x2="65.7" y2="438.15" stroke="#1c1c1c" stroke-width="1.4"/>
<text x="57.4" y="442.44" font-size="13.2" text-anchor="end">3</text>
<line x1="61.7" y1="472.1" x2="65.7" y2="472.1" stroke="#1c1c1c" stroke-width="1.4"/>
<text x="57.4" y="476.39" font-size="13.2" text-anchor="end">2</text>
<line x1="61.7" y1="506.05" x2="65.7" y2="506.05" stroke="#1c1c1c" stroke-width="1.4"/>
<text x="57.4" y="510.34" font-size="13.2" text-anchor="end">1</text>
<line x1="61.7" y1="540" x2="65.7" y2="540" stroke="#1c1c1c" stroke-width="1.4"/>
<text x="57.4" y="544.29" font-size="13.2" text-anchor="end">0</text>
<line x1="65.1" y1="540" x2="267.68" y2="540" stroke="#1c1c1c" stroke-width="1.4"/>
<line x1="65.6" y1="540" x2="65.6" y2="544" stroke="#1c1c1c" stroke-width="1.4"/>
<text x="65.6" y="558.3" font-size="13.2" text-anchor="middle">0</text>
<line x1="116.12" y1="540" x2="116.12" y2="544" stroke="#1c1c1c" stroke-width="1.4"/>
<text x="116.12" y="558.3" font-size="13.2" text-anchor="middle">4</text>
<line x1="166.64" y1="540" x2="166.64" y2="544" stroke="#1c1c1c" stroke-width="1.4"/>
<text x="166.64" y="558.3" font-size="13.2" text-anchor="middle">8</text>
<line x1="217.16" y1="540" x2="217.16" y2="544" stroke="#1c1c1c" stroke-width="1.4"/>
<text x="217.16" y="558.3" font-size="13.2" text-anchor="middle">12</text>
<line x1="267.68" y1="540" x2="267.68" y2="544" stroke="#1c1c1c" stroke-width="1.4"/>
<text x="267.68" y="558.3" font-size="13.2" text-anchor="middle">16</text>
<text transform="translate(41.5,471.9) rotate(-90)" font-size="12.6" text-anchor="middle">Mean clinical score</text>
<text x="166.9" y="574.7" font-size="13.0" text-anchor="middle">Days post-induction</text>
<line x1="72.3" y1="418.6" x2="87.6" y2="418.6" stroke="#1c1c1c" stroke-width="1.4"/>
<rect x="77" y="415.6" width="6" height="6" fill="#fff" stroke="#1c1c1c" stroke-width="1.2"/>
<text x="92.4" y="422.1" font-size="11.1">ZT6&#160;<tspan dx="0.6" font-style="italic">Bmal1</tspan><tspan dx="-1.0" dy="-5.6" font-size="7.7">Myeloid</tspan><tspan dx="0.2" dy="0.6" font-size="6.4">–/–</tspan></text>
<line x1="72.3" y1="433.2" x2="87.6" y2="433.2" stroke="#1c1c1c" stroke-width="1.4"/>
<rect x="76.6" y="429.8" width="6.8" height="6.8" fill="#1c1c1c" stroke="#1c1c1c" stroke-width="0"/>
<text x="92.4" y="437.8" font-size="11.1">ZT18&#160;<tspan dx="0.6" font-style="italic">Bmal1</tspan><tspan dx="-1.0" dy="-5.6" font-size="7.7">Myeloid</tspan><tspan dx="0.2" dy="0.6" font-size="6.4">–/–</tspan></text>
<polyline points="65.6,540 78.23,540 90.86,540 103.49,540 116.12,540 128.75,540 141.38,540 154.01,528.46 166.64,519.63 179.27,506.73 191.9,499.6 204.53,477.87 217.16,462.59 229.79,451.39 242.42,447.66 255.05,429.66 267.68,432.04" fill="none" stroke="#1c1c1c" stroke-width="1.2"/>
<polyline points="141.38,540 154.01,538.98 166.64,534.57 179.27,524.72 191.9,499.6 204.53,499.6 217.16,468.7 229.79,445.28 242.42,442.22 255.05,442.56 267.68,438.83" fill="none" stroke="#1c1c1c" stroke-width="1.2"/>
<line x1="154.01" y1="528.46" x2="154.01" y2="522.69" stroke="#1c1c1c" stroke-width="1.4"/>
<line x1="150.31" y1="522.69" x2="157.71" y2="522.69" stroke="#1c1c1c" stroke-width="1.4"/>
<line x1="166.64" y1="519.63" x2="166.64" y2="512.5" stroke="#1c1c1c" stroke-width="1.4"/>
<line x1="162.94" y1="512.5" x2="170.34" y2="512.5" stroke="#1c1c1c" stroke-width="1.4"/>
<line x1="179.27" y1="506.73" x2="179.27" y2="492.47" stroke="#1c1c1c" stroke-width="1.4"/>
<line x1="175.57" y1="492.47" x2="182.97" y2="492.47" stroke="#1c1c1c" stroke-width="1.4"/>
<line x1="191.9" y1="499.6" x2="191.9" y2="484.32" stroke="#1c1c1c" stroke-width="1.4"/>
<line x1="188.2" y1="484.32" x2="195.6" y2="484.32" stroke="#1c1c1c" stroke-width="1.4"/>
<line x1="204.53" y1="477.87" x2="204.53" y2="457.84" stroke="#1c1c1c" stroke-width="1.4"/>
<line x1="200.83" y1="457.84" x2="208.23" y2="457.84" stroke="#1c1c1c" stroke-width="1.4"/>
<line x1="217.16" y1="462.59" x2="217.16" y2="442.22" stroke="#1c1c1c" stroke-width="1.4"/>
<line x1="213.46" y1="442.22" x2="220.86" y2="442.22" stroke="#1c1c1c" stroke-width="1.4"/>
<line x1="229.79" y1="451.39" x2="229.79" y2="432.72" stroke="#1c1c1c" stroke-width="1.4"/>
<line x1="226.09" y1="432.72" x2="233.49" y2="432.72" stroke="#1c1c1c" stroke-width="1.4"/>
<line x1="242.42" y1="447.66" x2="242.42" y2="431.7" stroke="#1c1c1c" stroke-width="1.4"/>
<line x1="238.72" y1="431.7" x2="246.12" y2="431.7" stroke="#1c1c1c" stroke-width="1.4"/>
<line x1="255.05" y1="429.66" x2="255.05" y2="426.27" stroke="#1c1c1c" stroke-width="1.4"/>
<line x1="251.35" y1="426.27" x2="258.75" y2="426.27" stroke="#1c1c1c" stroke-width="1.4"/>
<line x1="267.68" y1="432.04" x2="267.68" y2="425.59" stroke="#1c1c1c" stroke-width="1.4"/>
<line x1="263.98" y1="425.59" x2="271.38" y2="425.59" stroke="#1c1c1c" stroke-width="1.4"/>
<line x1="179.27" y1="524.72" x2="179.27" y2="533.21" stroke="#1c1c1c" stroke-width="1.4"/>
<line x1="175.57" y1="533.21" x2="182.97" y2="533.21" stroke="#1c1c1c" stroke-width="1.4"/>
<line x1="191.9" y1="499.6" x2="191.9" y2="514.54" stroke="#1c1c1c" stroke-width="1.4"/>
<line x1="188.2" y1="514.54" x2="195.6" y2="514.54" stroke="#1c1c1c" stroke-width="1.4"/>
<line x1="204.53" y1="499.6" x2="204.53" y2="514.54" stroke="#1c1c1c" stroke-width="1.4"/>
<line x1="200.83" y1="514.54" x2="208.23" y2="514.54" stroke="#1c1c1c" stroke-width="1.4"/>
<line x1="217.16" y1="468.7" x2="217.16" y2="490.77" stroke="#1c1c1c" stroke-width="1.4"/>
<line x1="213.46" y1="490.77" x2="220.86" y2="490.77" stroke="#1c1c1c" stroke-width="1.4"/>
<line x1="229.79" y1="445.28" x2="229.79" y2="465.99" stroke="#1c1c1c" stroke-width="1.4"/>
<line x1="226.09" y1="465.99" x2="233.49" y2="465.99" stroke="#1c1c1c" stroke-width="1.4"/>
<line x1="242.42" y1="442.22" x2="242.42" y2="461.92" stroke="#1c1c1c" stroke-width="1.4"/>
<line x1="238.72" y1="461.92" x2="246.12" y2="461.92" stroke="#1c1c1c" stroke-width="1.4"/>
<line x1="255.05" y1="442.56" x2="255.05" y2="461.92" stroke="#1c1c1c" stroke-width="1.4"/>
<line x1="251.35" y1="461.92" x2="258.75" y2="461.92" stroke="#1c1c1c" stroke-width="1.4"/>
<line x1="267.68" y1="438.83" x2="267.68" y2="458.18" stroke="#1c1c1c" stroke-width="1.4"/>
<line x1="263.98" y1="458.18" x2="271.38" y2="458.18" stroke="#1c1c1c" stroke-width="1.4"/>
<rect x="150.81" y="535.78" width="6.4" height="6.4" fill="#1c1c1c" stroke="#1c1c1c" stroke-width="0"/>
<rect x="163.44" y="531.37" width="6.4" height="6.4" fill="#1c1c1c" stroke="#1c1c1c" stroke-width="0"/>
<rect x="176.07" y="521.52" width="6.4" height="6.4" fill="#1c1c1c" stroke="#1c1c1c" stroke-width="0"/>
<rect x="188.7" y="496.4" width="6.4" height="6.4" fill="#1c1c1c" stroke="#1c1c1c" stroke-width="0"/>
<rect x="201.33" y="496.4" width="6.4" height="6.4" fill="#1c1c1c" stroke="#1c1c1c" stroke-width="0"/>
<rect x="213.96" y="465.5" width="6.4" height="6.4" fill="#1c1c1c" stroke="#1c1c1c" stroke-width="0"/>
<rect x="226.59" y="442.08" width="6.4" height="6.4" fill="#1c1c1c" stroke="#1c1c1c" stroke-width="0"/>
<rect x="239.22" y="439.02" width="6.4" height="6.4" fill="#1c1c1c" stroke="#1c1c1c" stroke-width="0"/>
<rect x="251.85" y="439.36" width="6.4" height="6.4" fill="#1c1c1c" stroke="#1c1c1c" stroke-width="0"/>
<rect x="264.48" y="435.63" width="6.4" height="6.4" fill="#1c1c1c" stroke="#1c1c1c" stroke-width="0"/>
<rect x="62.7" y="537.1" width="5.8" height="5.8" fill="#fff" stroke="#1c1c1c" stroke-width="1.2"/>
<rect x="75.33" y="537.1" width="5.8" height="5.8" fill="#fff" stroke="#1c1c1c" stroke-width="1.2"/>
<rect x="87.96" y="537.1" width="5.8" height="5.8" fill="#fff" stroke="#1c1c1c" stroke-width="1.2"/>
<rect x="100.59" y="537.1" width="5.8" height="5.8" fill="#fff" stroke="#1c1c1c" stroke-width="1.2"/>
<rect x="113.22" y="537.1" width="5.8" height="5.8" fill="#fff" stroke="#1c1c1c" stroke-width="1.2"/>
<rect x="125.85" y="537.1" width="5.8" height="5.8" fill="#fff" stroke="#1c1c1c" stroke-width="1.2"/>
<rect x="138.48" y="537.1" width="5.8" height="5.8" fill="#fff" stroke="#1c1c1c" stroke-width="1.2"/>
<rect x="151.11" y="525.56" width="5.8" height="5.8" fill="#fff" stroke="#1c1c1c" stroke-width="1.2"/>
<rect x="163.74" y="516.73" width="5.8" height="5.8" fill="#fff" stroke="#1c1c1c" stroke-width="1.2"/>
<rect x="176.37" y="503.83" width="5.8" height="5.8" fill="#fff" stroke="#1c1c1c" stroke-width="1.2"/>
<rect x="189" y="496.7" width="5.8" height="5.8" fill="#fff" stroke="#1c1c1c" stroke-width="1.2"/>
<rect x="201.63" y="474.97" width="5.8" height="5.8" fill="#fff" stroke="#1c1c1c" stroke-width="1.2"/>
<rect x="214.26" y="459.69" width="5.8" height="5.8" fill="#fff" stroke="#1c1c1c" stroke-width="1.2"/>
<rect x="226.89" y="448.49" width="5.8" height="5.8" fill="#fff" stroke="#1c1c1c" stroke-width="1.2"/>
<rect x="239.52" y="444.76" width="5.8" height="5.8" fill="#fff" stroke="#1c1c1c" stroke-width="1.2"/>
<rect x="252.15" y="426.76" width="5.8" height="5.8" fill="#fff" stroke="#1c1c1c" stroke-width="1.2"/>
<rect x="264.78" y="429.14" width="5.8" height="5.8" fill="#fff" stroke="#1c1c1c" stroke-width="1.2"/>
<line x1="353" y1="234.3" x2="353" y2="367.9" stroke="#1c1c1c" stroke-width="1.4"/>
<line x1="349" y1="234.9" x2="353" y2="234.9" stroke="#1c1c1c" stroke-width="1.4"/>
<text x="345.6" y="239.19" font-size="13.2" text-anchor="end">8</text>
<line x1="349" y1="268" x2="353" y2="268" stroke="#1c1c1c" stroke-width="1.4"/>
<text x="345.6" y="272.29" font-size="13.2" text-anchor="end">6</text>
<line x1="349" y1="301.1" x2="353" y2="301.1" stroke="#1c1c1c" stroke-width="1.4"/>
<text x="345.6" y="305.39" font-size="13.2" text-anchor="end">4</text>
<line x1="349" y1="334.2" x2="353" y2="334.2" stroke="#1c1c1c" stroke-width="1.4"/>
<text x="345.6" y="338.49" font-size="13.2" text-anchor="end">2</text>
<line x1="349" y1="367.3" x2="353" y2="367.3" stroke="#1c1c1c" stroke-width="1.4"/>
<text x="345.6" y="371.59" font-size="13.2" text-anchor="end">0</text>
<line x1="352.4" y1="367.3" x2="487.6" y2="367.3" stroke="#1c1c1c" stroke-width="1.4"/>
<line x1="376.3" y1="367.3" x2="376.3" y2="371.3" stroke="#1c1c1c" stroke-width="1.4"/>
<line x1="421.2" y1="367.3" x2="421.2" y2="371.3" stroke="#1c1c1c" stroke-width="1.4"/>
<line x1="466.3" y1="367.3" x2="466.3" y2="371.3" stroke="#1c1c1c" stroke-width="1.4"/>
<text transform="translate(326.4,303) rotate(-90)" font-size="13.1" text-anchor="middle">%&#160;CD11b<tspan dy="-6.03" font-size="9.17">+</tspan><tspan dy="6.03">&#160;Ly6C</tspan><tspan dy="-6.03" font-size="9.17">hi</tspan></text>
<circle cx="368" cy="363.8" r="2.7" fill="#1c1c1c" stroke="#1c1c1c" stroke-width="0"/>
<circle cx="372.4" cy="360.5" r="2.7" fill="#1c1c1c" stroke="#1c1c1c" stroke-width="0"/>
<circle cx="376.3" cy="367.1" r="2.7" fill="#1c1c1c" stroke="#1c1c1c" stroke-width="0"/>
<circle cx="380" cy="362" r="2.7" fill="#1c1c1c" stroke="#1c1c1c" stroke-width="0"/>
<circle cx="384" cy="365.3" r="2.7" fill="#1c1c1c" stroke="#1c1c1c" stroke-width="0"/>
<line x1="361.4" y1="363.8" x2="391" y2="363.8" stroke="#1c1c1c" stroke-width="1.4"/>
<rect x="418.4" y="265" width="5.8" height="5.8" fill="#1c1c1c" stroke="#1c1c1c" stroke-width="0"/>
<rect x="418.4" y="285.6" width="5.8" height="5.8" fill="#1c1c1c" stroke="#1c1c1c" stroke-width="0"/>
<rect x="418.4" y="322.5" width="5.8" height="5.8" fill="#1c1c1c" stroke="#1c1c1c" stroke-width="0"/>
<rect x="418.4" y="335.7" width="5.8" height="5.8" fill="#1c1c1c" stroke="#1c1c1c" stroke-width="0"/>
<rect x="426.5" y="335.7" width="5.8" height="5.8" fill="#1c1c1c" stroke="#1c1c1c" stroke-width="0"/>
<line x1="405.95" y1="311.6" x2="436.45" y2="311.6" stroke="#1c1c1c" stroke-width="1.4"/>
<line x1="421.2" y1="297.4" x2="421.2" y2="326.1" stroke="#1c1c1c" stroke-width="1.4"/>
<line x1="413.45" y1="297.4" x2="428.95" y2="297.4" stroke="#1c1c1c" stroke-width="1.4"/>
<line x1="413.45" y1="326.1" x2="428.95" y2="326.1" stroke="#1c1c1c" stroke-width="1.4"/>
<polygon points="466.4,316.84 463.2,322.6 469.6,322.6" fill="#1c1c1c"/>
<polygon points="466.4,334.04 463.2,339.8 469.6,339.8" fill="#1c1c1c"/>
<polygon points="466.4,347.24 463.2,353 469.6,353" fill="#1c1c1c"/>
<polygon points="466.4,361.84 463.2,367.6 469.6,367.6" fill="#1c1c1c"/>
<line x1="451.3" y1="343" x2="481.3" y2="343" stroke="#1c1c1c" stroke-width="1.4"/>
<line x1="466.3" y1="333.5" x2="466.3" y2="352.8" stroke="#1c1c1c" stroke-width="1.4"/>
<line x1="458.55" y1="333.5" x2="474.05" y2="333.5" stroke="#1c1c1c" stroke-width="1.4"/>
<line x1="458.55" y1="352.8" x2="474.05" y2="352.8" stroke="#1c1c1c" stroke-width="1.4"/>
<line x1="378" y1="256.1" x2="421.5" y2="256.1" stroke="#1c1c1c" stroke-width="1.4"/>
<path d="M396.75 249L396.75 247.05M396.75 249L398.61 248.4M396.75 249L397.9 250.58M396.75 249L395.6 250.58M396.75 249L394.89 248.4" stroke="#1c1c1c" stroke-width="1.25" stroke-linecap="round" fill="none"/>
<path d="M402.25 249L402.25 247.05M402.25 249L404.11 248.4M402.25 249L403.4 250.58M402.25 249L401.1 250.58M402.25 249L400.39 248.4" stroke="#1c1c1c" stroke-width="1.25" stroke-linecap="round" fill="none"/>
<line x1="539.6" y1="234.3" x2="539.6" y2="367.9" stroke="#1c1c1c" stroke-width="1.4"/>
<line x1="535.6" y1="234.9" x2="539.6" y2="234.9" stroke="#1c1c1c" stroke-width="1.4"/>
<text x="532.8" y="239.19" font-size="13.2" text-anchor="end">8</text>
<line x1="535.6" y1="268" x2="539.6" y2="268" stroke="#1c1c1c" stroke-width="1.4"/>
<text x="532.8" y="272.29" font-size="13.2" text-anchor="end">6</text>
<line x1="535.6" y1="301.1" x2="539.6" y2="301.1" stroke="#1c1c1c" stroke-width="1.4"/>
<text x="532.8" y="305.39" font-size="13.2" text-anchor="end">4</text>
<line x1="535.6" y1="334.2" x2="539.6" y2="334.2" stroke="#1c1c1c" stroke-width="1.4"/>
<text x="532.8" y="338.49" font-size="13.2" text-anchor="end">2</text>
<line x1="535.6" y1="367.3" x2="539.6" y2="367.3" stroke="#1c1c1c" stroke-width="1.4"/>
<text x="532.8" y="371.59" font-size="13.2" text-anchor="end">0</text>
<line x1="539" y1="367.3" x2="676.7" y2="367.3" stroke="#1c1c1c" stroke-width="1.4"/>
<line x1="564.3" y1="367.3" x2="564.3" y2="371.3" stroke="#1c1c1c" stroke-width="1.4"/>
<line x1="608.9" y1="367.3" x2="608.9" y2="371.3" stroke="#1c1c1c" stroke-width="1.4"/>
<line x1="654" y1="367.3" x2="654" y2="371.3" stroke="#1c1c1c" stroke-width="1.4"/>
<text transform="translate(514.9,300.2) rotate(-90)" font-size="13.2" text-anchor="middle">#&#160;CD11b<tspan dy="-6.07" font-size="9.24">+</tspan><tspan dy="6.07">&#160;Ly6C</tspan><tspan dy="-6.07" font-size="9.24">hi</tspan><tspan dy="6.07">&#160;(×10</tspan><tspan dy="-6.07" font-size="9.24">2</tspan><tspan dy="6.07">)</tspan></text>
<circle cx="556" cy="363.1" r="2.7" fill="#1c1c1c" stroke="#1c1c1c" stroke-width="0"/>
<circle cx="560.2" cy="360.3" r="2.7" fill="#1c1c1c" stroke="#1c1c1c" stroke-width="0"/>
<circle cx="564.3" cy="367" r="2.7" fill="#1c1c1c" stroke="#1c1c1c" stroke-width="0"/>
<circle cx="568.5" cy="361.7" r="2.7" fill="#1c1c1c" stroke="#1c1c1c" stroke-width="0"/>
<circle cx="572.7" cy="365.9" r="2.7" fill="#1c1c1c" stroke="#1c1c1c" stroke-width="0"/>
<line x1="549.1" y1="363.7" x2="578.8" y2="363.7" stroke="#1c1c1c" stroke-width="1.4"/>
<rect x="606" y="263.1" width="5.8" height="5.8" fill="#1c1c1c" stroke="#1c1c1c" stroke-width="0"/>
<rect x="606" y="283.4" width="5.8" height="5.8" fill="#1c1c1c" stroke="#1c1c1c" stroke-width="0"/>
<rect x="606" y="308.3" width="5.8" height="5.8" fill="#1c1c1c" stroke="#1c1c1c" stroke-width="0"/>
<rect x="606" y="317.2" width="5.8" height="5.8" fill="#1c1c1c" stroke="#1c1c1c" stroke-width="0"/>
<rect x="606" y="340" width="5.8" height="5.8" fill="#1c1c1c" stroke="#1c1c1c" stroke-width="0"/>
<line x1="593.9" y1="305.4" x2="623.9" y2="305.4" stroke="#1c1c1c" stroke-width="1.4"/>
<line x1="608.9" y1="292.4" x2="608.9" y2="318.7" stroke="#1c1c1c" stroke-width="1.4"/>
<line x1="601.15" y1="292.4" x2="616.65" y2="292.4" stroke="#1c1c1c" stroke-width="1.4"/>
<line x1="601.15" y1="318.7" x2="616.65" y2="318.7" stroke="#1c1c1c" stroke-width="1.4"/>
<polygon points="654.5,323.54 651.3,329.3 657.7,329.3" fill="#1c1c1c"/>
<polygon points="662.3,320.84 659.1,326.6 665.5,326.6" fill="#1c1c1c"/>
<polygon points="654.5,338.34 651.3,344.1 657.7,344.1" fill="#1c1c1c"/>
<polygon points="654.5,346.64 651.3,352.4 657.7,352.4" fill="#1c1c1c"/>
<line x1="639.75" y1="334.8" x2="669.25" y2="334.8" stroke="#1c1c1c" stroke-width="1.4"/>
<line x1="654.5" y1="329.3" x2="654.5" y2="340.9" stroke="#1c1c1c" stroke-width="1.4"/>
<line x1="646.75" y1="329.3" x2="662.25" y2="329.3" stroke="#1c1c1c" stroke-width="1.4"/>
<line x1="646.75" y1="340.9" x2="662.25" y2="340.9" stroke="#1c1c1c" stroke-width="1.4"/>
<line x1="566.6" y1="255.8" x2="609.3" y2="255.8" stroke="#1c1c1c" stroke-width="1.4"/>
<path d="M585.15 248.9L585.15 246.95M585.15 248.9L587.01 248.3M585.15 248.9L586.3 250.48M585.15 248.9L584 250.48M585.15 248.9L583.29 248.3" stroke="#1c1c1c" stroke-width="1.25" stroke-linecap="round" fill="none"/>
<path d="M590.65 248.9L590.65 246.95M590.65 248.9L592.51 248.3M590.65 248.9L591.8 250.48M590.65 248.9L589.5 250.48M590.65 248.9L588.79 248.3" stroke="#1c1c1c" stroke-width="1.25" stroke-linecap="round" fill="none"/>
<line x1="353" y1="403.6" x2="353" y2="540.4" stroke="#1c1c1c" stroke-width="1.4"/>
<line x1="349" y1="404.2" x2="353" y2="404.2" stroke="#1c1c1c" stroke-width="1.4"/>
<text x="345.6" y="408.49" font-size="13.2" text-anchor="end">30</text>
<line x1="349" y1="449.4" x2="353" y2="449.4" stroke="#1c1c1c" stroke-width="1.4"/>
<text x="345.6" y="453.69" font-size="13.2" text-anchor="end">20</text>
<line x1="349" y1="494.6" x2="353" y2="494.6" stroke="#1c1c1c" stroke-width="1.4"/>
<text x="345.6" y="498.89" font-size="13.2" text-anchor="end">10</text>
<line x1="349" y1="539.8" x2="353" y2="539.8" stroke="#1c1c1c" stroke-width="1.4"/>
<text x="345.6" y="544.09" font-size="13.2" text-anchor="end">0</text>
<line x1="352.4" y1="539.8" x2="487.6" y2="539.8" stroke="#1c1c1c" stroke-width="1.4"/>
<line x1="376.6" y1="539.8" x2="376.6" y2="543.8" stroke="#1c1c1c" stroke-width="1.4"/>
<text x="376.6" y="558.1" font-size="13.2" text-anchor="middle">Naive</text>
<line x1="421.1" y1="539.8" x2="421.1" y2="543.8" stroke="#1c1c1c" stroke-width="1.4"/>
<text x="421.1" y="558.1" font-size="13.2" text-anchor="middle">ZT6</text>
<line x1="466.3" y1="539.8" x2="466.3" y2="543.8" stroke="#1c1c1c" stroke-width="1.4"/>
<text x="466.3" y="558.1" font-size="13.2" text-anchor="middle">ZT18</text>
<text transform="translate(318.9,473.7) rotate(-90)" font-size="13.2" text-anchor="middle">%&#160;CD11b<tspan dy="-6.07" font-size="9.24">+</tspan><tspan dy="6.07">&#160;Ly6G</tspan><tspan dy="-6.07" font-size="9.24">+</tspan></text>
<circle cx="368.3" cy="536" r="2.7" fill="#1c1c1c" stroke="#1c1c1c" stroke-width="0"/>
<circle cx="376.5" cy="528.8" r="2.7" fill="#1c1c1c" stroke="#1c1c1c" stroke-width="0"/>
<circle cx="376.5" cy="537" r="2.7" fill="#1c1c1c" stroke="#1c1c1c" stroke-width="0"/>
<circle cx="380.5" cy="531.9" r="2.7" fill="#1c1c1c" stroke="#1c1c1c" stroke-width="0"/>
<circle cx="384.6" cy="536.6" r="2.7" fill="#1c1c1c" stroke="#1c1c1c" stroke-width="0"/>
<line x1="361.1" y1="533.9" x2="391.4" y2="533.9" stroke="#1c1c1c" stroke-width="1.4"/>
<rect x="418.3" y="422.6" width="5.8" height="5.8" fill="#1c1c1c" stroke="#1c1c1c" stroke-width="0"/>
<rect x="418.3" y="451.5" width="5.8" height="5.8" fill="#1c1c1c" stroke="#1c1c1c" stroke-width="0"/>
<rect x="426.5" y="446.7" width="5.8" height="5.8" fill="#1c1c1c" stroke="#1c1c1c" stroke-width="0"/>
<rect x="418.3" y="475.3" width="5.8" height="5.8" fill="#1c1c1c" stroke="#1c1c1c" stroke-width="0"/>
<rect x="418.3" y="489.7" width="5.8" height="5.8" fill="#1c1c1c" stroke="#1c1c1c" stroke-width="0"/>
<line x1="406.7" y1="459.9" x2="435.7" y2="459.9" stroke="#1c1c1c" stroke-width="1.4"/>
<line x1="421.2" y1="448.3" x2="421.2" y2="471.3" stroke="#1c1c1c" stroke-width="1.4"/>
<line x1="413.45" y1="448.3" x2="428.95" y2="448.3" stroke="#1c1c1c" stroke-width="1.4"/>
<line x1="413.45" y1="471.3" x2="428.95" y2="471.3" stroke="#1c1c1c" stroke-width="1.4"/>
<polygon points="466.4,492.24 463.2,498 469.6,498" fill="#1c1c1c"/>
<polygon points="458.2,511.14 455,516.9 461.4,516.9" fill="#1c1c1c"/>
<polygon points="466.4,514.14 463.2,519.9 469.6,519.9" fill="#1c1c1c"/>
<polygon points="474.6,514.14 471.4,519.9 477.8,519.9" fill="#1c1c1c"/>
<line x1="451.3" y1="510.3" x2="481.5" y2="510.3" stroke="#1c1c1c" stroke-width="1.4"/>
<line x1="466.4" y1="505.3" x2="466.4" y2="515.5" stroke="#1c1c1c" stroke-width="1.4"/>
<line x1="458.65" y1="505.3" x2="474.15" y2="505.3" stroke="#1c1c1c" stroke-width="1.4"/>
<line x1="458.65" y1="515.5" x2="474.15" y2="515.5" stroke="#1c1c1c" stroke-width="1.4"/>
<line x1="378.5" y1="415" x2="421" y2="415" stroke="#1c1c1c" stroke-width="1.4"/>
<path d="M394.7 406.8L394.7 404.85M394.7 406.8L396.56 406.2M394.7 406.8L395.85 408.38M394.7 406.8L393.55 408.38M394.7 406.8L392.84 406.2" stroke="#1c1c1c" stroke-width="1.25" stroke-linecap="round" fill="none"/>
<path d="M400.2 406.8L400.2 404.85M400.2 406.8L402.06 406.2M400.2 406.8L401.35 408.38M400.2 406.8L399.05 408.38M400.2 406.8L398.34 406.2" stroke="#1c1c1c" stroke-width="1.25" stroke-linecap="round" fill="none"/>
<path d="M405.7 406.8L405.7 404.85M405.7 406.8L407.56 406.2M405.7 406.8L406.85 408.38M405.7 406.8L404.55 408.38M405.7 406.8L403.84 406.2" stroke="#1c1c1c" stroke-width="1.25" stroke-linecap="round" fill="none"/>
<line x1="430.7" y1="405.3" x2="471.4" y2="405.3" stroke="#1c1c1c" stroke-width="1.4"/>
<path d="M448.75 397L448.75 395.05M448.75 397L450.61 396.4M448.75 397L449.9 398.58M448.75 397L447.6 398.58M448.75 397L446.89 396.4" stroke="#1c1c1c" stroke-width="1.25" stroke-linecap="round" fill="none"/>
<path d="M454.25 397L454.25 395.05M454.25 397L456.11 396.4M454.25 397L455.4 398.58M454.25 397L453.1 398.58M454.25 397L452.39 396.4" stroke="#1c1c1c" stroke-width="1.25" stroke-linecap="round" fill="none"/>
<line x1="539.8" y1="403.7" x2="539.8" y2="540.4" stroke="#1c1c1c" stroke-width="1.4"/>
<line x1="535.8" y1="404.3" x2="539.8" y2="404.3" stroke="#1c1c1c" stroke-width="1.4"/>
<text x="532.8" y="408.59" font-size="13.2" text-anchor="end">5</text>
<line x1="535.8" y1="431.4" x2="539.8" y2="431.4" stroke="#1c1c1c" stroke-width="1.4"/>
<text x="532.8" y="435.69" font-size="13.2" text-anchor="end">4</text>
<line x1="535.8" y1="458.5" x2="539.8" y2="458.5" stroke="#1c1c1c" stroke-width="1.4"/>
<text x="532.8" y="462.79" font-size="13.2" text-anchor="end">3</text>
<line x1="535.8" y1="485.6" x2="539.8" y2="485.6" stroke="#1c1c1c" stroke-width="1.4"/>
<text x="532.8" y="489.89" font-size="13.2" text-anchor="end">2</text>
<line x1="535.8" y1="512.7" x2="539.8" y2="512.7" stroke="#1c1c1c" stroke-width="1.4"/>
<text x="532.8" y="516.99" font-size="13.2" text-anchor="end">1</text>
<line x1="535.8" y1="539.8" x2="539.8" y2="539.8" stroke="#1c1c1c" stroke-width="1.4"/>
<text x="532.8" y="544.09" font-size="13.2" text-anchor="end">0</text>
<line x1="539.2" y1="539.8" x2="676.7" y2="539.8" stroke="#1c1c1c" stroke-width="1.4"/>
<line x1="564.3" y1="539.8" x2="564.3" y2="543.8" stroke="#1c1c1c" stroke-width="1.4"/>
<text x="564.3" y="558.1" font-size="13.2" text-anchor="middle">Naive</text>
<line x1="608.9" y1="539.8" x2="608.9" y2="543.8" stroke="#1c1c1c" stroke-width="1.4"/>
<text x="608.9" y="558.1" font-size="13.2" text-anchor="middle">ZT6</text>
<line x1="654" y1="539.8" x2="654" y2="543.8" stroke="#1c1c1c" stroke-width="1.4"/>
<text x="654" y="558.1" font-size="13.2" text-anchor="middle">ZT18</text>
<text transform="translate(515.9,473.6) rotate(-90)" font-size="13.2" text-anchor="middle">#&#160;CD11b<tspan dy="-6.07" font-size="9.24">+</tspan><tspan dy="6.07">&#160;Ly6G</tspan><tspan dy="-6.07" font-size="9.24">+</tspan><tspan dy="6.07">&#160;(×10</tspan><tspan dy="-6.07" font-size="9.24">3</tspan><tspan dy="6.07">)</tspan></text>
<circle cx="556.6" cy="537" r="2.7" fill="#1c1c1c" stroke="#1c1c1c" stroke-width="0"/>
<circle cx="560.2" cy="534.2" r="2.7" fill="#1c1c1c" stroke="#1c1c1c" stroke-width="0"/>
<circle cx="564.3" cy="539" r="2.7" fill="#1c1c1c" stroke="#1c1c1c" stroke-width="0"/>
<circle cx="568.5" cy="534.8" r="2.7" fill="#1c1c1c" stroke="#1c1c1c" stroke-width="0"/>
<circle cx="572.7" cy="537.6" r="2.7" fill="#1c1c1c" stroke="#1c1c1c" stroke-width="0"/>
<line x1="550.5" y1="536.5" x2="578.8" y2="536.5" stroke="#1c1c1c" stroke-width="1.4"/>
<rect x="606.1" y="435.6" width="5.8" height="5.8" fill="#1c1c1c" stroke="#1c1c1c" stroke-width="0"/>
<rect x="606.1" y="466.2" width="5.8" height="5.8" fill="#1c1c1c" stroke="#1c1c1c" stroke-width="0"/>
<rect x="606.1" y="476.4" width="5.8" height="5.8" fill="#1c1c1c" stroke="#1c1c1c" stroke-width="0"/>
<rect x="606.1" y="498.9" width="5.8" height="5.8" fill="#1c1c1c" stroke="#1c1c1c" stroke-width="0"/>
<rect x="606.1" y="512.5" width="5.8" height="5.8" fill="#1c1c1c" stroke="#1c1c1c" stroke-width="0"/>
<line x1="594.2" y1="480.7" x2="623.8" y2="480.7" stroke="#1c1c1c" stroke-width="1.4"/>
<line x1="609" y1="467.1" x2="609" y2="494.6" stroke="#1c1c1c" stroke-width="1.4"/>
<line x1="601.25" y1="467.1" x2="616.75" y2="467.1" stroke="#1c1c1c" stroke-width="1.4"/>
<line x1="601.25" y1="494.6" x2="616.75" y2="494.6" stroke="#1c1c1c" stroke-width="1.4"/>
<polygon points="654.5,501.64 651.3,507.4 657.7,507.4" fill="#1c1c1c"/>
<polygon points="654.5,514.74 651.3,520.5 657.7,520.5" fill="#1c1c1c"/>
<polygon points="662.3,521.64 659.1,527.4 665.5,527.4" fill="#1c1c1c"/>
<polygon points="654.5,524.44 651.3,530.2 657.7,530.2" fill="#1c1c1c"/>
<line x1="639.5" y1="519" x2="669.5" y2="519" stroke="#1c1c1c" stroke-width="1.4"/>
<line x1="654.5" y1="514" x2="654.5" y2="524" stroke="#1c1c1c" stroke-width="1.4"/>
<line x1="646.75" y1="514" x2="662.25" y2="514" stroke="#1c1c1c" stroke-width="1.4"/>
<line x1="646.75" y1="524" x2="662.25" y2="524" stroke="#1c1c1c" stroke-width="1.4"/>
<line x1="566.6" y1="428" x2="609.3" y2="428" stroke="#1c1c1c" stroke-width="1.4"/>
<path d="M585.15 420L585.15 418.05M585.15 420L587.01 419.4M585.15 420L586.3 421.58M585.15 420L584 421.58M585.15 420L583.29 419.4" stroke="#1c1c1c" stroke-width="1.25" stroke-linecap="round" fill="none"/>
<path d="M590.65 420L590.65 418.05M590.65 420L592.51 419.4M590.65 420L591.8 421.58M590.65 420L589.5 421.58M590.65 420L588.79 419.4" stroke="#1c1c1c" stroke-width="1.25" stroke-linecap="round" fill="none"/>
<line x1="615.7" y1="418.6" x2="658.7" y2="418.6" stroke="#1c1c1c" stroke-width="1.4"/>
<path d="M637.9 410L637.9 408.05M637.9 410L639.76 409.4M637.9 410L639.05 411.58M637.9 410L636.75 411.58M637.9 410L636.04 409.4" stroke="#1c1c1c" stroke-width="1.25" stroke-linecap="round" fill="none"/>
<line x1="67" y1="603.59" x2="67" y2="749" stroke="#1c1c1c" stroke-width="1.4"/>
<line x1="63" y1="604.19" x2="67" y2="604.19" stroke="#1c1c1c" stroke-width="1.4"/>
<text x="58.6" y="608.48" font-size="13.2" text-anchor="end">65</text>
<line x1="63" y1="628.22" x2="67" y2="628.22" stroke="#1c1c1c" stroke-width="1.4"/>
<text x="58.6" y="632.51" font-size="13.2" text-anchor="end">60</text>
<line x1="63" y1="652.26" x2="67" y2="652.26" stroke="#1c1c1c" stroke-width="1.4"/>
<text x="58.6" y="656.55" font-size="13.2" text-anchor="end">55</text>
<line x1="63" y1="676.29" x2="67" y2="676.29" stroke="#1c1c1c" stroke-width="1.4"/>
<text x="58.6" y="680.58" font-size="13.2" text-anchor="end">50</text>
<line x1="63" y1="700.33" x2="67" y2="700.33" stroke="#1c1c1c" stroke-width="1.4"/>
<text x="58.6" y="704.62" font-size="13.2" text-anchor="end">45</text>
<line x1="63" y1="724.37" x2="67" y2="724.37" stroke="#1c1c1c" stroke-width="1.4"/>
<text x="58.6" y="728.65" font-size="13.2" text-anchor="end">40</text>
<line x1="63" y1="748.4" x2="67" y2="748.4" stroke="#1c1c1c" stroke-width="1.4"/>
<text x="58.6" y="752.69" font-size="13.2" text-anchor="end">35</text>
<line x1="66.4" y1="748.4" x2="162" y2="748.4" stroke="#1c1c1c" stroke-width="1.4"/>
<line x1="90.8" y1="748.4" x2="90.8" y2="752.4" stroke="#1c1c1c" stroke-width="1.4"/>
<text x="90.8" y="767.1" font-size="13.2" text-anchor="middle">ZT6</text>
<line x1="138.6" y1="748.4" x2="138.6" y2="752.4" stroke="#1c1c1c" stroke-width="1.4"/>
<text x="138.6" y="767.1" font-size="13.2" text-anchor="middle">ZT18</text>
<text transform="translate(16.6,678) rotate(-90)" font-size="12.8" text-anchor="middle">%&#160;IL-1β<tspan dy="-5.89" font-size="8.96">+</tspan></text>
<text transform="translate(31.9,679) rotate(-90)" font-size="12.8" text-anchor="middle">of&#160;CD11b<tspan dy="-5.89" font-size="8.96">+</tspan><tspan dy="5.89">&#160;Ly6C</tspan><tspan dy="-5.89" font-size="8.96">hi</tspan></text>
<rect x="87.7" y="651.2" width="5.8" height="5.8" fill="#1c1c1c" stroke="#1c1c1c" stroke-width="0"/>
<rect x="87.7" y="663" width="5.8" height="5.8" fill="#1c1c1c" stroke="#1c1c1c" stroke-width="0"/>
<rect x="87.7" y="672.7" width="5.8" height="5.8" fill="#1c1c1c" stroke="#1c1c1c" stroke-width="0"/>
<rect x="96.4" y="671.4" width="5.8" height="5.8" fill="#1c1c1c" stroke="#1c1c1c" stroke-width="0"/>
<line x1="74.95" y1="667.8" x2="106.45" y2="667.8" stroke="#1c1c1c" stroke-width="1.4"/>
<line x1="90.7" y1="663" x2="90.7" y2="672.5" stroke="#1c1c1c" stroke-width="1.4"/>
<line x1="82.45" y1="663" x2="98.95" y2="663" stroke="#1c1c1c" stroke-width="1.4"/>
<line x1="82.45" y1="672.5" x2="98.95" y2="672.5" stroke="#1c1c1c" stroke-width="1.4"/>
<polygon points="138.7,631.94 135.5,637.7 141.9,637.7" fill="#1c1c1c"/>
<polygon points="138.7,668.24 135.5,674 141.9,674" fill="#1c1c1c"/>
<polygon points="138.7,699.74 135.5,705.5 141.9,705.5" fill="#1c1c1c"/>
<polygon points="138.7,715.54 135.5,721.3 141.9,721.3" fill="#1c1c1c"/>
<line x1="123.2" y1="682.2" x2="154.2" y2="682.2" stroke="#1c1c1c" stroke-width="1.4"/>
<line x1="138.7" y1="663.3" x2="138.7" y2="700.1" stroke="#1c1c1c" stroke-width="1.4"/>
<line x1="130.45" y1="663.3" x2="146.95" y2="663.3" stroke="#1c1c1c" stroke-width="1.4"/>
<line x1="130.45" y1="700.1" x2="146.95" y2="700.1" stroke="#1c1c1c" stroke-width="1.4"/>
<line x1="233.1" y1="603.59" x2="233.1" y2="749" stroke="#1c1c1c" stroke-width="1.4"/>
<line x1="229.1" y1="604.19" x2="233.1" y2="604.19" stroke="#1c1c1c" stroke-width="1.4"/>
<text x="224.8" y="608.48" font-size="13.2" text-anchor="end">3</text>
<line x1="229.1" y1="652.26" x2="233.1" y2="652.26" stroke="#1c1c1c" stroke-width="1.4"/>
<text x="224.8" y="656.55" font-size="13.2" text-anchor="end">2</text>
<line x1="229.1" y1="700.33" x2="233.1" y2="700.33" stroke="#1c1c1c" stroke-width="1.4"/>
<text x="224.8" y="704.62" font-size="13.2" text-anchor="end">1</text>
<line x1="229.1" y1="748.4" x2="233.1" y2="748.4" stroke="#1c1c1c" stroke-width="1.4"/>
<text x="224.8" y="752.69" font-size="13.2" text-anchor="end">0</text>
<line x1="232.5" y1="748.4" x2="327.6" y2="748.4" stroke="#1c1c1c" stroke-width="1.4"/>
<line x1="256.7" y1="748.4" x2="256.7" y2="752.4" stroke="#1c1c1c" stroke-width="1.4"/>
<text x="256.7" y="767.1" font-size="13.2" text-anchor="middle">ZT6</text>
<line x1="304.8" y1="748.4" x2="304.8" y2="752.4" stroke="#1c1c1c" stroke-width="1.4"/>
<text x="304.8" y="767.1" font-size="13.2" text-anchor="middle">ZT18</text>
<text transform="translate(190.1,676.5) rotate(-90)" font-size="12.8" text-anchor="middle">#&#160;IL-1β<tspan dy="-5.89" font-size="8.96">+</tspan></text>
<text transform="translate(205,674.6) rotate(-90)" font-size="12.8" text-anchor="middle">of&#160;CD11b<tspan dy="-5.89" font-size="8.96">+</tspan><tspan dy="5.89">&#160;Ly6C</tspan><tspan dy="-5.89" font-size="8.96">Hi</tspan><tspan dy="5.89">(×10</tspan><tspan dy="-5.89" font-size="8.96">2</tspan><tspan dy="5.89">)</tspan></text>
<rect x="253.8" y="619.7" width="5.8" height="5.8" fill="#1c1c1c" stroke="#1c1c1c" stroke-width="0"/>
<rect x="253.8" y="662.2" width="5.8" height="5.8" fill="#1c1c1c" stroke="#1c1c1c" stroke-width="0"/>
<rect x="253.8" y="677.5" width="5.8" height="5.8" fill="#1c1c1c" stroke="#1c1c1c" stroke-width="0"/>
<rect x="253.8" y="687.2" width="5.8" height="5.8" fill="#1c1c1c" stroke="#1c1c1c" stroke-width="0"/>
<line x1="240.9" y1="664.3" x2="272.5" y2="664.3" stroke="#1c1c1c" stroke-width="1.4"/>
<line x1="256.7" y1="649.4" x2="256.7" y2="679.6" stroke="#1c1c1c" stroke-width="1.4"/>
<line x1="248.4" y1="649.4" x2="265" y2="649.4" stroke="#1c1c1c" stroke-width="1.4"/>
<line x1="248.4" y1="679.6" x2="265" y2="679.6" stroke="#1c1c1c" stroke-width="1.4"/>
<polygon points="296.1,686.14 292.9,691.9 299.3,691.9" fill="#1c1c1c"/>
<polygon points="304.8,695.04 301.6,700.8 308,700.8" fill="#1c1c1c"/>
<polygon points="313.2,712.14 310,717.9 316.4,717.9" fill="#1c1c1c"/>
<polygon points="304.8,715.54 301.6,721.3 308,721.3" fill="#1c1c1c"/>
<line x1="289.35" y1="705.3" x2="320.45" y2="705.3" stroke="#1c1c1c" stroke-width="1.4"/>
<line x1="304.9" y1="698.5" x2="304.9" y2="712.4" stroke="#1c1c1c" stroke-width="1.4"/>
<line x1="296.6" y1="698.5" x2="313.2" y2="698.5" stroke="#1c1c1c" stroke-width="1.4"/>
<line x1="296.6" y1="712.4" x2="313.2" y2="712.4" stroke="#1c1c1c" stroke-width="1.4"/>
<line x1="407.8" y1="601" x2="407.8" y2="749" stroke="#1c1c1c" stroke-width="1.4"/>
<line x1="403.8" y1="601.6" x2="407.8" y2="601.6" stroke="#1c1c1c" stroke-width="1.4"/>
<text x="398.6" y="605.89" font-size="13.2" text-anchor="end">80</text>
<line x1="403.8" y1="638.3" x2="407.8" y2="638.3" stroke="#1c1c1c" stroke-width="1.4"/>
<text x="398.6" y="642.59" font-size="13.2" text-anchor="end">60</text>
<line x1="403.8" y1="675" x2="407.8" y2="675" stroke="#1c1c1c" stroke-width="1.4"/>
<text x="398.6" y="679.29" font-size="13.2" text-anchor="end">40</text>
<line x1="403.8" y1="711.7" x2="407.8" y2="711.7" stroke="#1c1c1c" stroke-width="1.4"/>
<text x="398.6" y="715.99" font-size="13.2" text-anchor="end">20</text>
<line x1="403.8" y1="748.4" x2="407.8" y2="748.4" stroke="#1c1c1c" stroke-width="1.4"/>
<text x="398.6" y="752.69" font-size="13.2" text-anchor="end">0</text>
<line x1="407.2" y1="748.4" x2="503.4" y2="748.4" stroke="#1c1c1c" stroke-width="1.4"/>
<line x1="431.4" y1="748.4" x2="431.4" y2="752.4" stroke="#1c1c1c" stroke-width="1.4"/>
<text x="431.4" y="767.1" font-size="13.2" text-anchor="middle">ZT6</text>
<line x1="479.3" y1="748.4" x2="479.3" y2="752.4" stroke="#1c1c1c" stroke-width="1.4"/>
<text x="479.3" y="767.1" font-size="13.2" text-anchor="middle">ZT18</text>
<text transform="translate(356.3,675) rotate(-90)" font-size="12.8" text-anchor="middle">%&#160;IL-1β<tspan dy="-5.89" font-size="8.96">+</tspan></text>
<text transform="translate(372.2,675) rotate(-90)" font-size="12.8" text-anchor="middle">of&#160;CD11b<tspan dy="-5.89" font-size="8.96">+</tspan><tspan dy="5.89">&#160;Ly6G</tspan><tspan dy="-5.89" font-size="8.96">+</tspan></text>
<rect x="428.5" y="611" width="5.8" height="5.8" fill="#1c1c1c" stroke="#1c1c1c" stroke-width="0"/>
<rect x="436.9" y="619.4" width="5.8" height="5.8" fill="#1c1c1c" stroke="#1c1c1c" stroke-width="0"/>
<rect x="436.9" y="621.7" width="5.8" height="5.8" fill="#1c1c1c" stroke="#1c1c1c" stroke-width="0"/>
<rect x="428.5" y="622.1" width="5.8" height="5.8" fill="#1c1c1c" stroke="#1c1c1c" stroke-width="0"/>
<rect x="428.5" y="624.1" width="5.8" height="5.8" fill="#1c1c1c" stroke="#1c1c1c" stroke-width="0"/>
<rect x="428.5" y="637.8" width="5.8" height="5.8" fill="#1c1c1c" stroke="#1c1c1c" stroke-width="0"/>
<rect x="428.5" y="658.8" width="5.8" height="5.8" fill="#1c1c1c" stroke="#1c1c1c" stroke-width="0"/>
<line x1="415.85" y1="634.2" x2="447.35" y2="634.2" stroke="#1c1c1c" stroke-width="1.4"/>
<line x1="431.6" y1="623.9" x2="431.6" y2="642" stroke="#1c1c1c" stroke-width="1.4"/>
<line x1="423.5" y1="623.9" x2="439.7" y2="623.9" stroke="#1c1c1c" stroke-width="1.4"/>
<line x1="423.5" y1="642" x2="439.7" y2="642" stroke="#1c1c1c" stroke-width="1.4"/>
<polygon points="479.3,628.84 476.1,634.6 482.5,634.6" fill="#1c1c1c"/>
<polygon points="470.6,650.64 467.4,656.4 473.8,656.4" fill="#1c1c1c"/>
<polygon points="479.3,655.14 476.1,660.9 482.5,660.9" fill="#1c1c1c"/>
<polygon points="479.3,680.04 476.1,685.8 482.5,685.8" fill="#1c1c1c"/>
<line x1="463.5" y1="656.5" x2="495.5" y2="656.5" stroke="#1c1c1c" stroke-width="1.4"/>
<line x1="479.5" y1="646.2" x2="479.5" y2="667.2" stroke="#1c1c1c" stroke-width="1.4"/>
<line x1="471.35" y1="646.2" x2="487.65" y2="646.2" stroke="#1c1c1c" stroke-width="1.4"/>
<line x1="471.35" y1="667.2" x2="487.65" y2="667.2" stroke="#1c1c1c" stroke-width="1.4"/>
<line x1="573.8" y1="601.01" x2="573.8" y2="749" stroke="#1c1c1c" stroke-width="1.4"/>
<line x1="569.8" y1="601.61" x2="573.8" y2="601.61" stroke="#1c1c1c" stroke-width="1.4"/>
<text x="564.7" y="605.9" font-size="13.2" text-anchor="end">3</text>
<line x1="569.8" y1="650.54" x2="573.8" y2="650.54" stroke="#1c1c1c" stroke-width="1.4"/>
<text x="564.7" y="654.83" font-size="13.2" text-anchor="end">2</text>
<line x1="569.8" y1="699.47" x2="573.8" y2="699.47" stroke="#1c1c1c" stroke-width="1.4"/>
<text x="564.7" y="703.76" font-size="13.2" text-anchor="end">1</text>
<line x1="569.8" y1="748.4" x2="573.8" y2="748.4" stroke="#1c1c1c" stroke-width="1.4"/>
<text x="564.7" y="752.69" font-size="13.2" text-anchor="end">0</text>
<line x1="573.2" y1="748.4" x2="669.2" y2="748.4" stroke="#1c1c1c" stroke-width="1.4"/>
<line x1="597.7" y1="748.4" x2="597.7" y2="752.4" stroke="#1c1c1c" stroke-width="1.4"/>
<text x="597.7" y="767.1" font-size="13.2" text-anchor="middle">ZT6</text>
<line x1="646.1" y1="748.4" x2="646.1" y2="752.4" stroke="#1c1c1c" stroke-width="1.4"/>
<text x="646.1" y="767.1" font-size="13.2" text-anchor="middle">ZT18</text>
<text transform="translate(531.1,675) rotate(-90)" font-size="12.8" text-anchor="middle">#&#160;IL-1β<tspan dy="-5.89" font-size="8.96">+</tspan></text>
<text transform="translate(546.2,675) rotate(-90)" font-size="12.8" text-anchor="middle">of&#160;CD11b<tspan dy="-5.89" font-size="8.96">+</tspan><tspan dy="5.89">&#160;Ly6G</tspan><tspan dy="-5.89" font-size="8.96">+</tspan><tspan dy="5.89">&#160;(×10</tspan><tspan dy="-5.89" font-size="8.96">3</tspan><tspan dy="5.89">)</tspan></text>
<rect x="594.8" y="622.1" width="5.8" height="5.8" fill="#1c1c1c" stroke="#1c1c1c" stroke-width="0"/>
<rect x="594.8" y="624" width="5.8" height="5.8" fill="#1c1c1c" stroke="#1c1c1c" stroke-width="0"/>
<rect x="586.2" y="658.8" width="5.8" height="5.8" fill="#1c1c1c" stroke="#1c1c1c" stroke-width="0"/>
<rect x="594.8" y="666.2" width="5.8" height="5.8" fill="#1c1c1c" stroke="#1c1c1c" stroke-width="0"/>
<rect x="604.1" y="712.7" width="5.8" height="5.8" fill="#1c1c1c" stroke="#1c1c1c" stroke-width="0"/>
<rect x="594.8" y="718.7" width="5.8" height="5.8" fill="#1c1c1c" stroke="#1c1c1c" stroke-width="0"/>
<line x1="581.75" y1="678.8" x2="614.05" y2="678.8" stroke="#1c1c1c" stroke-width="1.4"/>
<line x1="597.9" y1="661.2" x2="597.9" y2="696.7" stroke="#1c1c1c" stroke-width="1.4"/>
<line x1="589.6" y1="661.2" x2="606.2" y2="661.2" stroke="#1c1c1c" stroke-width="1.4"/>
<line x1="589.6" y1="696.7" x2="606.2" y2="696.7" stroke="#1c1c1c" stroke-width="1.4"/>
<polygon points="646.1,714.24 642.9,720 649.3,720" fill="#1c1c1c"/>
<polygon points="637.7,724.74 634.5,730.5 640.9,730.5" fill="#1c1c1c"/>
<polygon points="646.1,725.54 642.9,731.3 649.3,731.3" fill="#1c1c1c"/>
<polygon points="646.1,737.04 642.9,742.8 649.3,742.8" fill="#1c1c1c"/>
<line x1="629.85" y1="729" x2="661.95" y2="729" stroke="#1c1c1c" stroke-width="1.4"/>
<line x1="645.9" y1="724.3" x2="645.9" y2="734" stroke="#1c1c1c" stroke-width="1.4"/>
<line x1="638.05" y1="724.3" x2="653.75" y2="724.3" stroke="#1c1c1c" stroke-width="1.4"/>
<line x1="638.05" y1="734" x2="653.75" y2="734" stroke="#1c1c1c" stroke-width="1.4"/>
<line x1="598.8" y1="613.4" x2="648.2" y2="613.4" stroke="#1c1c1c" stroke-width="1.4"/>
<path d="M623.8 604.7L623.8 602.75M623.8 604.7L625.66 604.1M623.8 604.7L624.95 606.28M623.8 604.7L622.65 606.28M623.8 604.7L621.94 604.1" stroke="#1c1c1c" stroke-width="1.25" stroke-linecap="round" fill="none"/>
</svg>
</body></html>
